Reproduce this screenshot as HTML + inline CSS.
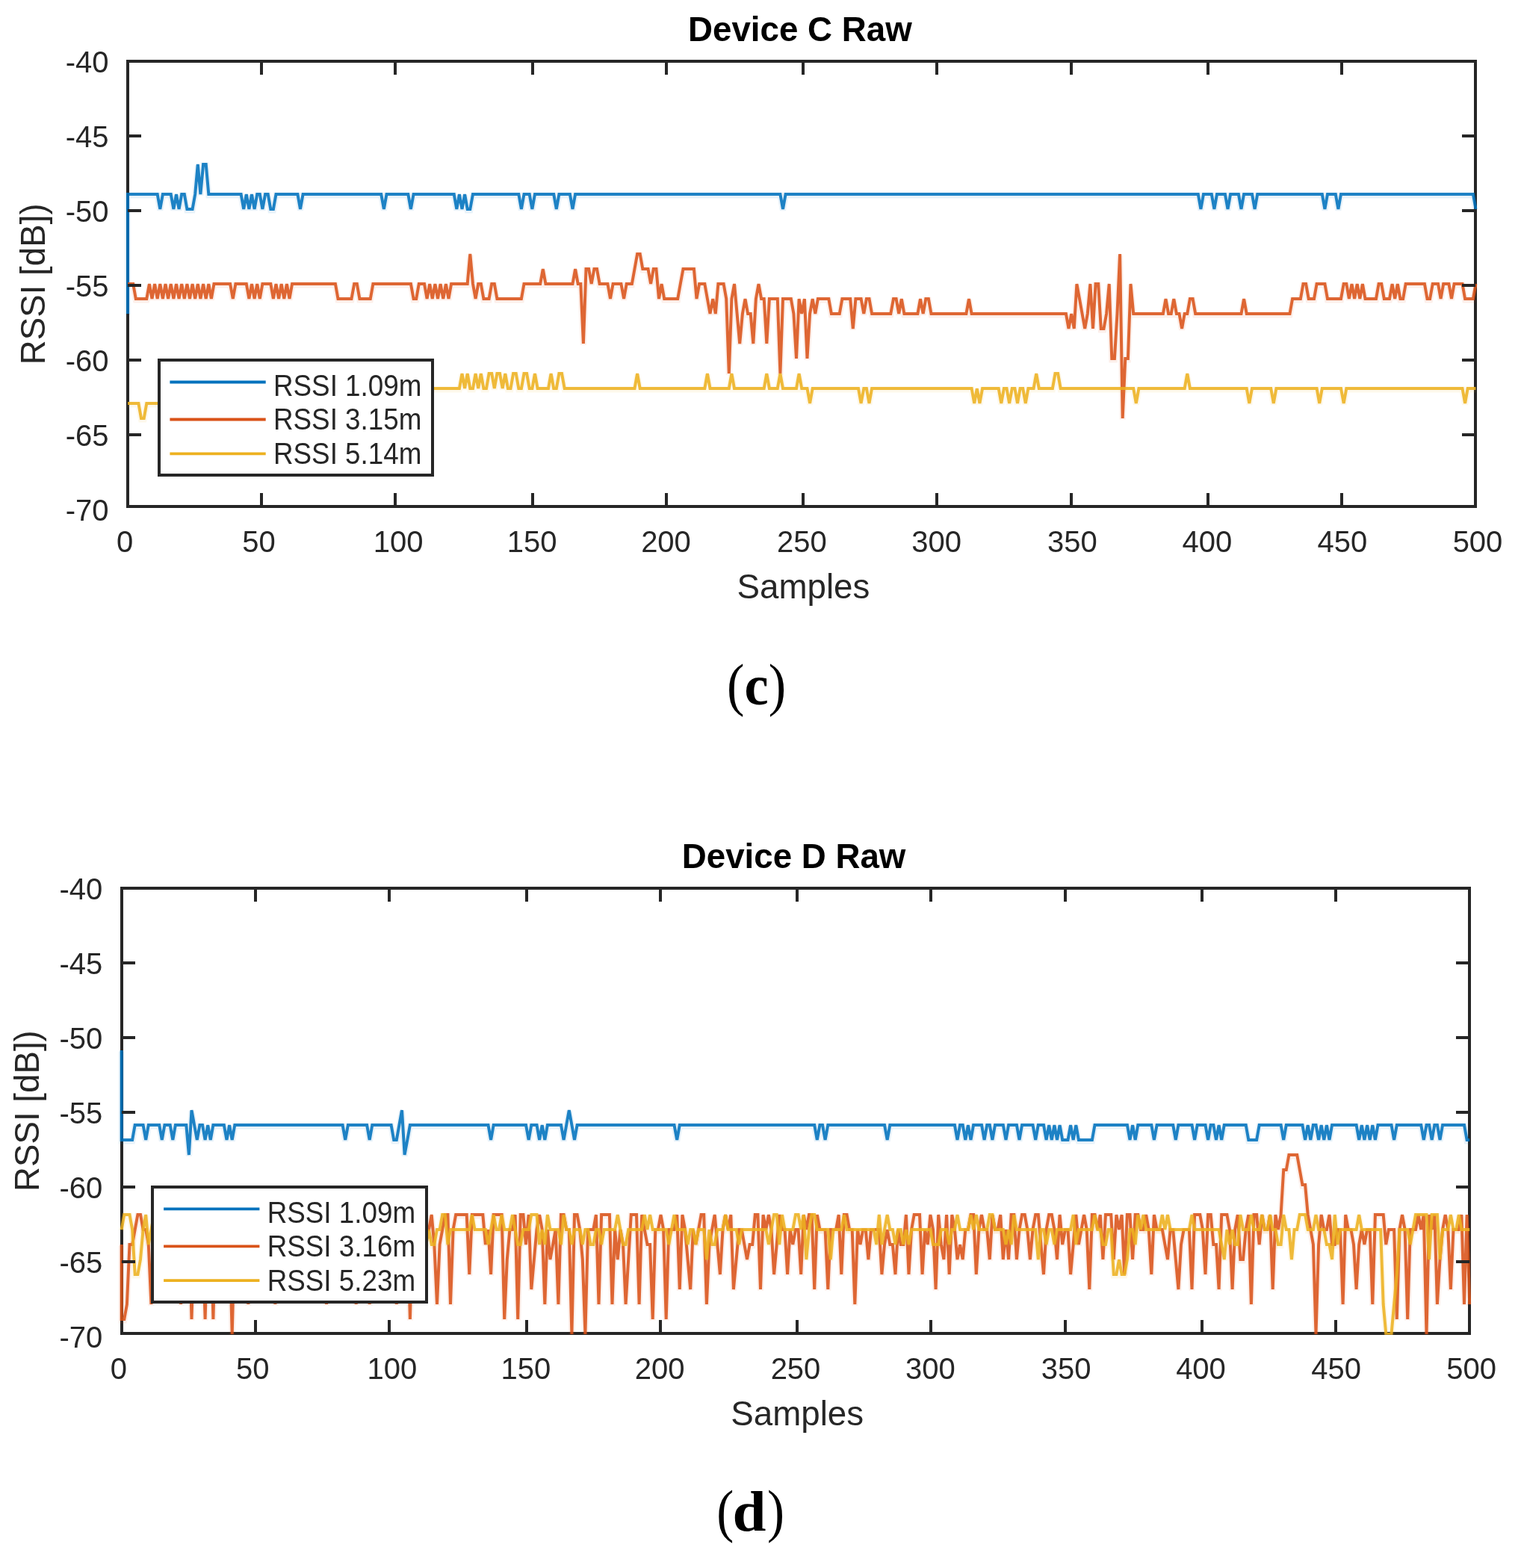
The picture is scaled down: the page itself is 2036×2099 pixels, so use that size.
<!DOCTYPE html>
<html><head><meta charset="utf-8"><title>Device C / D Raw RSSI</title>
<style>
html,body{margin:0;padding:0;background:#fff;overflow:hidden;}
svg{display:block;}
.tk{font-family:"Liberation Sans",Arial,sans-serif;font-size:40px;fill:#262626;}
.lb{font-family:"Liberation Sans",Arial,sans-serif;font-size:45.7px;fill:#262626;}
.tt{font-family:"Liberation Sans",Arial,sans-serif;font-size:45.7px;font-weight:bold;fill:#000;}
.lg{font-family:"Liberation Sans",Arial,sans-serif;font-size:40px;fill:#262626;}
.cap{font-family:"Liberation Serif","Times New Roman",serif;font-size:80px;fill:#000;}
</style></head><body>
<svg width="2036" height="2099" viewBox="0 0 2036 2099">
<rect width="2036" height="2099" fill="#fff"/>
<g>
<rect x="171.0" y="82.0" width="1804.0" height="596.0" fill="none" stroke="#262626" stroke-width="4"/>
<clipPath id="clipC"><rect x="163.0" y="80.3" width="1814.5" height="599.7"/></clipPath>
<g clip-path="url(#clipC)">
<polyline points="171.0,421.5 171.0,261.5 174.6,261.5 178.2,261.5 181.8,261.5 185.4,261.5 189.0,261.5 192.7,261.5 196.3,261.5 199.9,261.5 203.5,261.5 207.1,261.5 210.7,261.5 214.3,281.5 217.9,261.5 221.5,261.5 225.1,261.5 228.7,261.5 232.4,281.5 236.0,261.5 239.6,281.5 243.2,261.5 246.8,261.5 250.4,281.5 254.0,281.5 257.6,281.5 261.2,261.5 264.8,221.5 268.4,261.5 272.1,221.5 275.7,221.5 279.3,261.5 282.9,261.5 286.5,261.5 290.1,261.5 293.7,261.5 297.3,261.5 300.9,261.5 304.5,261.5 308.1,261.5 311.8,261.5 315.4,261.5 319.0,261.5 322.6,261.5 326.2,281.5 329.8,261.5 333.4,281.5 337.0,261.5 340.6,281.5 344.2,261.5 347.8,261.5 351.4,281.5 355.1,261.5 358.7,261.5 362.3,281.5 365.9,281.5 369.5,261.5 373.1,261.5 376.7,261.5 380.3,261.5 383.9,261.5 387.5,261.5 391.1,261.5 394.8,261.5 398.4,261.5 402.0,281.5 405.6,261.5 409.2,261.5 412.8,261.5 416.4,261.5 420.0,261.5 423.6,261.5 427.2,261.5 430.8,261.5 434.5,261.5 438.1,261.5 441.7,261.5 445.3,261.5 448.9,261.5 452.5,261.5 456.1,261.5 459.7,261.5 463.3,261.5 466.9,261.5 470.5,261.5 474.2,261.5 477.8,261.5 481.4,261.5 485.0,261.5 488.6,261.5 492.2,261.5 495.8,261.5 499.4,261.5 503.0,261.5 506.6,261.5 510.2,261.5 513.9,281.5 517.5,261.5 521.1,261.5 524.7,261.5 528.3,261.5 531.9,261.5 535.5,261.5 539.1,261.5 542.7,261.5 546.3,261.5 549.9,281.5 553.6,261.5 557.2,261.5 560.8,261.5 564.4,261.5 568.0,261.5 571.6,261.5 575.2,261.5 578.8,261.5 582.4,261.5 586.0,261.5 589.6,261.5 593.3,261.5 596.9,261.5 600.5,261.5 604.1,261.5 607.7,261.5 611.3,281.5 614.9,261.5 618.5,281.5 622.1,261.5 625.7,281.5 629.3,281.5 633.0,261.5 636.6,261.5 640.2,261.5 643.8,261.5 647.4,261.5 651.0,261.5 654.6,261.5 658.2,261.5 661.8,261.5 665.4,261.5 669.0,261.5 672.7,261.5 676.3,261.5 679.9,261.5 683.5,261.5 687.1,261.5 690.7,261.5 694.3,261.5 697.9,281.5 701.5,261.5 705.1,261.5 708.7,261.5 712.4,281.5 716.0,261.5 719.6,261.5 723.2,261.5 726.8,261.5 730.4,261.5 734.0,261.5 737.6,261.5 741.2,261.5 744.8,281.5 748.4,261.5 752.0,261.5 755.7,261.5 759.3,261.5 762.9,261.5 766.5,281.5 770.1,261.5 773.7,261.5 777.3,261.5 780.9,261.5 784.5,261.5 788.1,261.5 791.7,261.5 795.4,261.5 799.0,261.5 802.6,261.5 806.2,261.5 809.8,261.5 813.4,261.5 817.0,261.5 820.6,261.5 824.2,261.5 827.8,261.5 831.4,261.5 835.1,261.5 838.7,261.5 842.3,261.5 845.9,261.5 849.5,261.5 853.1,261.5 856.7,261.5 860.3,261.5 863.9,261.5 867.5,261.5 871.1,261.5 874.8,261.5 878.4,261.5 882.0,261.5 885.6,261.5 889.2,261.5 892.8,261.5 896.4,261.5 900.0,261.5 903.6,261.5 907.2,261.5 910.8,261.5 914.5,261.5 918.1,261.5 921.7,261.5 925.3,261.5 928.9,261.5 932.5,261.5 936.1,261.5 939.7,261.5 943.3,261.5 946.9,261.5 950.5,261.5 954.2,261.5 957.8,261.5 961.4,261.5 965.0,261.5 968.6,261.5 972.2,261.5 975.8,261.5 979.4,261.5 983.0,261.5 986.6,261.5 990.2,261.5 993.9,261.5 997.5,261.5 1001.1,261.5 1004.7,261.5 1008.3,261.5 1011.9,261.5 1015.5,261.5 1019.1,261.5 1022.7,261.5 1026.3,261.5 1029.9,261.5 1033.6,261.5 1037.2,261.5 1040.8,261.5 1044.4,261.5 1048.0,281.5 1051.6,261.5 1055.2,261.5 1058.8,261.5 1062.4,261.5 1066.0,261.5 1069.6,261.5 1073.2,261.5 1076.9,261.5 1080.5,261.5 1084.1,261.5 1087.7,261.5 1091.3,261.5 1094.9,261.5 1098.5,261.5 1102.1,261.5 1105.7,261.5 1109.3,261.5 1112.9,261.5 1116.6,261.5 1120.2,261.5 1123.8,261.5 1127.4,261.5 1131.0,261.5 1134.6,261.5 1138.2,261.5 1141.8,261.5 1145.4,261.5 1149.0,261.5 1152.6,261.5 1156.3,261.5 1159.9,261.5 1163.5,261.5 1167.1,261.5 1170.7,261.5 1174.3,261.5 1177.9,261.5 1181.5,261.5 1185.1,261.5 1188.7,261.5 1192.3,261.5 1196.0,261.5 1199.6,261.5 1203.2,261.5 1206.8,261.5 1210.4,261.5 1214.0,261.5 1217.6,261.5 1221.2,261.5 1224.8,261.5 1228.4,261.5 1232.0,261.5 1235.7,261.5 1239.3,261.5 1242.9,261.5 1246.5,261.5 1250.1,261.5 1253.7,261.5 1257.3,261.5 1260.9,261.5 1264.5,261.5 1268.1,261.5 1271.7,261.5 1275.4,261.5 1279.0,261.5 1282.6,261.5 1286.2,261.5 1289.8,261.5 1293.4,261.5 1297.0,261.5 1300.6,261.5 1304.2,261.5 1307.8,261.5 1311.4,261.5 1315.1,261.5 1318.7,261.5 1322.3,261.5 1325.9,261.5 1329.5,261.5 1333.1,261.5 1336.7,261.5 1340.3,261.5 1343.9,261.5 1347.5,261.5 1351.1,261.5 1354.8,261.5 1358.4,261.5 1362.0,261.5 1365.6,261.5 1369.2,261.5 1372.8,261.5 1376.4,261.5 1380.0,261.5 1383.6,261.5 1387.2,261.5 1390.8,261.5 1394.5,261.5 1398.1,261.5 1401.7,261.5 1405.3,261.5 1408.9,261.5 1412.5,261.5 1416.1,261.5 1419.7,261.5 1423.3,261.5 1426.9,261.5 1430.5,261.5 1434.2,261.5 1437.8,261.5 1441.4,261.5 1445.0,261.5 1448.6,261.5 1452.2,261.5 1455.8,261.5 1459.4,261.5 1463.0,261.5 1466.6,261.5 1470.2,261.5 1473.8,261.5 1477.5,261.5 1481.1,261.5 1484.7,261.5 1488.3,261.5 1491.9,261.5 1495.5,261.5 1499.1,261.5 1502.7,261.5 1506.3,261.5 1509.9,261.5 1513.5,261.5 1517.2,261.5 1520.8,261.5 1524.4,261.5 1528.0,261.5 1531.6,261.5 1535.2,261.5 1538.8,261.5 1542.4,261.5 1546.0,261.5 1549.6,261.5 1553.2,261.5 1556.9,261.5 1560.5,261.5 1564.1,261.5 1567.7,261.5 1571.3,261.5 1574.9,261.5 1578.5,261.5 1582.1,261.5 1585.7,261.5 1589.3,261.5 1592.9,261.5 1596.6,261.5 1600.2,261.5 1603.8,261.5 1607.4,281.5 1611.0,261.5 1614.6,261.5 1618.2,261.5 1621.8,261.5 1625.4,281.5 1629.0,261.5 1632.6,261.5 1636.3,261.5 1639.9,261.5 1643.5,281.5 1647.1,261.5 1650.7,261.5 1654.3,261.5 1657.9,261.5 1661.5,281.5 1665.1,261.5 1668.7,261.5 1672.3,261.5 1676.0,261.5 1679.6,281.5 1683.2,261.5 1686.8,261.5 1690.4,261.5 1694.0,261.5 1697.6,261.5 1701.2,261.5 1704.8,261.5 1708.4,261.5 1712.0,261.5 1715.7,261.5 1719.3,261.5 1722.9,261.5 1726.5,261.5 1730.1,261.5 1733.7,261.5 1737.3,261.5 1740.9,261.5 1744.5,261.5 1748.1,261.5 1751.7,261.5 1755.4,261.5 1759.0,261.5 1762.6,261.5 1766.2,261.5 1769.8,261.5 1773.4,281.5 1777.0,261.5 1780.6,261.5 1784.2,261.5 1787.8,261.5 1791.4,281.5 1795.0,261.5 1798.7,261.5 1802.3,261.5 1805.9,261.5 1809.5,261.5 1813.1,261.5 1816.7,261.5 1820.3,261.5 1823.9,261.5 1827.5,261.5 1831.1,261.5 1834.7,261.5 1838.4,261.5 1842.0,261.5 1845.6,261.5 1849.2,261.5 1852.8,261.5 1856.4,261.5 1860.0,261.5 1863.6,261.5 1867.2,261.5 1870.8,261.5 1874.4,261.5 1878.1,261.5 1881.7,261.5 1885.3,261.5 1888.9,261.5 1892.5,261.5 1896.1,261.5 1899.7,261.5 1903.3,261.5 1906.9,261.5 1910.5,261.5 1914.1,261.5 1917.8,261.5 1921.4,261.5 1925.0,261.5 1928.6,261.5 1932.2,261.5 1935.8,261.5 1939.4,261.5 1943.0,261.5 1946.6,261.5 1950.2,261.5 1953.8,261.5 1957.5,261.5 1961.1,261.5 1964.7,261.5 1968.3,261.5 1971.9,261.5 1975.5,281.5" fill="none" stroke="#0072BD" stroke-opacity="0.09" stroke-width="8.0" stroke-linejoin="miter" stroke-miterlimit="3"/>
<polyline points="171.0,420.0 171.0,260.0 174.6,260.0 178.2,260.0 181.8,260.0 185.4,260.0 189.0,260.0 192.7,260.0 196.3,260.0 199.9,260.0 203.5,260.0 207.1,260.0 210.7,260.0 214.3,280.0 217.9,260.0 221.5,260.0 225.1,260.0 228.7,260.0 232.4,280.0 236.0,260.0 239.6,280.0 243.2,260.0 246.8,260.0 250.4,280.0 254.0,280.0 257.6,280.0 261.2,260.0 264.8,220.0 268.4,260.0 272.1,220.0 275.7,220.0 279.3,260.0 282.9,260.0 286.5,260.0 290.1,260.0 293.7,260.0 297.3,260.0 300.9,260.0 304.5,260.0 308.1,260.0 311.8,260.0 315.4,260.0 319.0,260.0 322.6,260.0 326.2,280.0 329.8,260.0 333.4,280.0 337.0,260.0 340.6,280.0 344.2,260.0 347.8,260.0 351.4,280.0 355.1,260.0 358.7,260.0 362.3,280.0 365.9,280.0 369.5,260.0 373.1,260.0 376.7,260.0 380.3,260.0 383.9,260.0 387.5,260.0 391.1,260.0 394.8,260.0 398.4,260.0 402.0,280.0 405.6,260.0 409.2,260.0 412.8,260.0 416.4,260.0 420.0,260.0 423.6,260.0 427.2,260.0 430.8,260.0 434.5,260.0 438.1,260.0 441.7,260.0 445.3,260.0 448.9,260.0 452.5,260.0 456.1,260.0 459.7,260.0 463.3,260.0 466.9,260.0 470.5,260.0 474.2,260.0 477.8,260.0 481.4,260.0 485.0,260.0 488.6,260.0 492.2,260.0 495.8,260.0 499.4,260.0 503.0,260.0 506.6,260.0 510.2,260.0 513.9,280.0 517.5,260.0 521.1,260.0 524.7,260.0 528.3,260.0 531.9,260.0 535.5,260.0 539.1,260.0 542.7,260.0 546.3,260.0 549.9,280.0 553.6,260.0 557.2,260.0 560.8,260.0 564.4,260.0 568.0,260.0 571.6,260.0 575.2,260.0 578.8,260.0 582.4,260.0 586.0,260.0 589.6,260.0 593.3,260.0 596.9,260.0 600.5,260.0 604.1,260.0 607.7,260.0 611.3,280.0 614.9,260.0 618.5,280.0 622.1,260.0 625.7,280.0 629.3,280.0 633.0,260.0 636.6,260.0 640.2,260.0 643.8,260.0 647.4,260.0 651.0,260.0 654.6,260.0 658.2,260.0 661.8,260.0 665.4,260.0 669.0,260.0 672.7,260.0 676.3,260.0 679.9,260.0 683.5,260.0 687.1,260.0 690.7,260.0 694.3,260.0 697.9,280.0 701.5,260.0 705.1,260.0 708.7,260.0 712.4,280.0 716.0,260.0 719.6,260.0 723.2,260.0 726.8,260.0 730.4,260.0 734.0,260.0 737.6,260.0 741.2,260.0 744.8,280.0 748.4,260.0 752.0,260.0 755.7,260.0 759.3,260.0 762.9,260.0 766.5,280.0 770.1,260.0 773.7,260.0 777.3,260.0 780.9,260.0 784.5,260.0 788.1,260.0 791.7,260.0 795.4,260.0 799.0,260.0 802.6,260.0 806.2,260.0 809.8,260.0 813.4,260.0 817.0,260.0 820.6,260.0 824.2,260.0 827.8,260.0 831.4,260.0 835.1,260.0 838.7,260.0 842.3,260.0 845.9,260.0 849.5,260.0 853.1,260.0 856.7,260.0 860.3,260.0 863.9,260.0 867.5,260.0 871.1,260.0 874.8,260.0 878.4,260.0 882.0,260.0 885.6,260.0 889.2,260.0 892.8,260.0 896.4,260.0 900.0,260.0 903.6,260.0 907.2,260.0 910.8,260.0 914.5,260.0 918.1,260.0 921.7,260.0 925.3,260.0 928.9,260.0 932.5,260.0 936.1,260.0 939.7,260.0 943.3,260.0 946.9,260.0 950.5,260.0 954.2,260.0 957.8,260.0 961.4,260.0 965.0,260.0 968.6,260.0 972.2,260.0 975.8,260.0 979.4,260.0 983.0,260.0 986.6,260.0 990.2,260.0 993.9,260.0 997.5,260.0 1001.1,260.0 1004.7,260.0 1008.3,260.0 1011.9,260.0 1015.5,260.0 1019.1,260.0 1022.7,260.0 1026.3,260.0 1029.9,260.0 1033.6,260.0 1037.2,260.0 1040.8,260.0 1044.4,260.0 1048.0,280.0 1051.6,260.0 1055.2,260.0 1058.8,260.0 1062.4,260.0 1066.0,260.0 1069.6,260.0 1073.2,260.0 1076.9,260.0 1080.5,260.0 1084.1,260.0 1087.7,260.0 1091.3,260.0 1094.9,260.0 1098.5,260.0 1102.1,260.0 1105.7,260.0 1109.3,260.0 1112.9,260.0 1116.6,260.0 1120.2,260.0 1123.8,260.0 1127.4,260.0 1131.0,260.0 1134.6,260.0 1138.2,260.0 1141.8,260.0 1145.4,260.0 1149.0,260.0 1152.6,260.0 1156.3,260.0 1159.9,260.0 1163.5,260.0 1167.1,260.0 1170.7,260.0 1174.3,260.0 1177.9,260.0 1181.5,260.0 1185.1,260.0 1188.7,260.0 1192.3,260.0 1196.0,260.0 1199.6,260.0 1203.2,260.0 1206.8,260.0 1210.4,260.0 1214.0,260.0 1217.6,260.0 1221.2,260.0 1224.8,260.0 1228.4,260.0 1232.0,260.0 1235.7,260.0 1239.3,260.0 1242.9,260.0 1246.5,260.0 1250.1,260.0 1253.7,260.0 1257.3,260.0 1260.9,260.0 1264.5,260.0 1268.1,260.0 1271.7,260.0 1275.4,260.0 1279.0,260.0 1282.6,260.0 1286.2,260.0 1289.8,260.0 1293.4,260.0 1297.0,260.0 1300.6,260.0 1304.2,260.0 1307.8,260.0 1311.4,260.0 1315.1,260.0 1318.7,260.0 1322.3,260.0 1325.9,260.0 1329.5,260.0 1333.1,260.0 1336.7,260.0 1340.3,260.0 1343.9,260.0 1347.5,260.0 1351.1,260.0 1354.8,260.0 1358.4,260.0 1362.0,260.0 1365.6,260.0 1369.2,260.0 1372.8,260.0 1376.4,260.0 1380.0,260.0 1383.6,260.0 1387.2,260.0 1390.8,260.0 1394.5,260.0 1398.1,260.0 1401.7,260.0 1405.3,260.0 1408.9,260.0 1412.5,260.0 1416.1,260.0 1419.7,260.0 1423.3,260.0 1426.9,260.0 1430.5,260.0 1434.2,260.0 1437.8,260.0 1441.4,260.0 1445.0,260.0 1448.6,260.0 1452.2,260.0 1455.8,260.0 1459.4,260.0 1463.0,260.0 1466.6,260.0 1470.2,260.0 1473.8,260.0 1477.5,260.0 1481.1,260.0 1484.7,260.0 1488.3,260.0 1491.9,260.0 1495.5,260.0 1499.1,260.0 1502.7,260.0 1506.3,260.0 1509.9,260.0 1513.5,260.0 1517.2,260.0 1520.8,260.0 1524.4,260.0 1528.0,260.0 1531.6,260.0 1535.2,260.0 1538.8,260.0 1542.4,260.0 1546.0,260.0 1549.6,260.0 1553.2,260.0 1556.9,260.0 1560.5,260.0 1564.1,260.0 1567.7,260.0 1571.3,260.0 1574.9,260.0 1578.5,260.0 1582.1,260.0 1585.7,260.0 1589.3,260.0 1592.9,260.0 1596.6,260.0 1600.2,260.0 1603.8,260.0 1607.4,280.0 1611.0,260.0 1614.6,260.0 1618.2,260.0 1621.8,260.0 1625.4,280.0 1629.0,260.0 1632.6,260.0 1636.3,260.0 1639.9,260.0 1643.5,280.0 1647.1,260.0 1650.7,260.0 1654.3,260.0 1657.9,260.0 1661.5,280.0 1665.1,260.0 1668.7,260.0 1672.3,260.0 1676.0,260.0 1679.6,280.0 1683.2,260.0 1686.8,260.0 1690.4,260.0 1694.0,260.0 1697.6,260.0 1701.2,260.0 1704.8,260.0 1708.4,260.0 1712.0,260.0 1715.7,260.0 1719.3,260.0 1722.9,260.0 1726.5,260.0 1730.1,260.0 1733.7,260.0 1737.3,260.0 1740.9,260.0 1744.5,260.0 1748.1,260.0 1751.7,260.0 1755.4,260.0 1759.0,260.0 1762.6,260.0 1766.2,260.0 1769.8,260.0 1773.4,280.0 1777.0,260.0 1780.6,260.0 1784.2,260.0 1787.8,260.0 1791.4,280.0 1795.0,260.0 1798.7,260.0 1802.3,260.0 1805.9,260.0 1809.5,260.0 1813.1,260.0 1816.7,260.0 1820.3,260.0 1823.9,260.0 1827.5,260.0 1831.1,260.0 1834.7,260.0 1838.4,260.0 1842.0,260.0 1845.6,260.0 1849.2,260.0 1852.8,260.0 1856.4,260.0 1860.0,260.0 1863.6,260.0 1867.2,260.0 1870.8,260.0 1874.4,260.0 1878.1,260.0 1881.7,260.0 1885.3,260.0 1888.9,260.0 1892.5,260.0 1896.1,260.0 1899.7,260.0 1903.3,260.0 1906.9,260.0 1910.5,260.0 1914.1,260.0 1917.8,260.0 1921.4,260.0 1925.0,260.0 1928.6,260.0 1932.2,260.0 1935.8,260.0 1939.4,260.0 1943.0,260.0 1946.6,260.0 1950.2,260.0 1953.8,260.0 1957.5,260.0 1961.1,260.0 1964.7,260.0 1968.3,260.0 1971.9,260.0 1975.5,280.0" fill="none" stroke="#0072BD" stroke-opacity="0.88" stroke-width="4.0" stroke-linejoin="miter" stroke-miterlimit="3"/>
<polyline points="171.0,381.5 174.6,381.5 178.2,381.5 181.8,401.5 185.4,401.5 189.0,401.5 192.7,401.5 196.3,401.5 199.9,381.5 203.5,401.5 207.1,381.5 210.7,401.5 214.3,381.5 217.9,401.5 221.5,381.5 225.1,401.5 228.7,381.5 232.4,401.5 236.0,381.5 239.6,401.5 243.2,381.5 246.8,401.5 250.4,381.5 254.0,401.5 257.6,381.5 261.2,401.5 264.8,381.5 268.4,401.5 272.1,381.5 275.7,401.5 279.3,381.5 282.9,401.5 286.5,381.5 290.1,381.5 293.7,381.5 297.3,381.5 300.9,381.5 304.5,381.5 308.1,381.5 311.8,401.5 315.4,381.5 319.0,381.5 322.6,381.5 326.2,381.5 329.8,381.5 333.4,401.5 337.0,381.5 340.6,401.5 344.2,381.5 347.8,401.5 351.4,381.5 355.1,381.5 358.7,381.5 362.3,381.5 365.9,401.5 369.5,381.5 373.1,401.5 376.7,381.5 380.3,401.5 383.9,381.5 387.5,401.5 391.1,381.5 394.8,381.5 398.4,381.5 402.0,381.5 405.6,381.5 409.2,381.5 412.8,381.5 416.4,381.5 420.0,381.5 423.6,381.5 427.2,381.5 430.8,381.5 434.5,381.5 438.1,381.5 441.7,381.5 445.3,381.5 448.9,381.5 452.5,401.5 456.1,401.5 459.7,401.5 463.3,401.5 466.9,401.5 470.5,401.5 474.2,381.5 477.8,381.5 481.4,401.5 485.0,401.5 488.6,401.5 492.2,401.5 495.8,401.5 499.4,381.5 503.0,381.5 506.6,381.5 510.2,381.5 513.9,381.5 517.5,381.5 521.1,381.5 524.7,381.5 528.3,381.5 531.9,381.5 535.5,381.5 539.1,381.5 542.7,381.5 546.3,381.5 549.9,381.5 553.6,401.5 557.2,401.5 560.8,381.5 564.4,381.5 568.0,381.5 571.6,401.5 575.2,381.5 578.8,401.5 582.4,381.5 586.0,401.5 589.6,381.5 593.3,401.5 596.9,381.5 600.5,401.5 604.1,381.5 607.7,381.5 611.3,381.5 614.9,381.5 618.5,381.5 622.1,381.5 625.7,381.5 629.3,341.5 633.0,381.5 636.6,401.5 640.2,381.5 643.8,381.5 647.4,401.5 651.0,401.5 654.6,401.5 658.2,381.5 661.8,381.5 665.4,401.5 669.0,401.5 672.7,401.5 676.3,401.5 679.9,401.5 683.5,401.5 687.1,401.5 690.7,401.5 694.3,401.5 697.9,401.5 701.5,381.5 705.1,381.5 708.7,381.5 712.4,381.5 716.0,381.5 719.6,381.5 723.2,381.5 726.8,361.5 730.4,381.5 734.0,381.5 737.6,381.5 741.2,381.5 744.8,381.5 748.4,381.5 752.0,381.5 755.7,381.5 759.3,381.5 762.9,381.5 766.5,381.5 770.1,361.5 773.7,381.5 777.3,381.5 780.9,461.5 784.5,361.5 788.1,361.5 791.7,381.5 795.4,361.5 799.0,361.5 802.6,381.5 806.2,381.5 809.8,381.5 813.4,381.5 817.0,401.5 820.6,381.5 824.2,381.5 827.8,381.5 831.4,381.5 835.1,401.5 838.7,381.5 842.3,381.5 845.9,381.5 849.5,361.5 853.1,341.5 856.7,341.5 860.3,361.5 863.9,361.5 867.5,361.5 871.1,381.5 874.8,361.5 878.4,361.5 882.0,401.5 885.6,381.5 889.2,401.5 892.8,401.5 896.4,401.5 900.0,401.5 903.6,401.5 907.2,401.5 910.8,381.5 914.5,361.5 918.1,361.5 921.7,361.5 925.3,361.5 928.9,361.5 932.5,401.5 936.1,381.5 939.7,381.5 943.3,381.5 946.9,401.5 950.5,421.5 954.2,401.5 957.8,421.5 961.4,381.5 965.0,381.5 968.6,381.5 972.2,401.5 975.8,501.5 979.4,401.5 983.0,381.5 986.6,421.5 990.2,461.5 993.9,421.5 997.5,401.5 1001.1,421.5 1004.7,421.5 1008.3,461.5 1011.9,401.5 1015.5,381.5 1019.1,401.5 1022.7,401.5 1026.3,461.5 1029.9,401.5 1033.6,401.5 1037.2,401.5 1040.8,401.5 1044.4,501.5 1048.0,401.5 1051.6,401.5 1055.2,401.5 1058.8,401.5 1062.4,421.5 1066.0,481.5 1069.6,401.5 1073.2,421.5 1076.9,401.5 1080.5,481.5 1084.1,421.5 1087.7,401.5 1091.3,421.5 1094.9,401.5 1098.5,401.5 1102.1,401.5 1105.7,401.5 1109.3,401.5 1112.9,421.5 1116.6,421.5 1120.2,421.5 1123.8,421.5 1127.4,401.5 1131.0,401.5 1134.6,401.5 1138.2,401.5 1141.8,441.5 1145.4,401.5 1149.0,401.5 1152.6,401.5 1156.3,421.5 1159.9,401.5 1163.5,401.5 1167.1,421.5 1170.7,421.5 1174.3,421.5 1177.9,421.5 1181.5,421.5 1185.1,421.5 1188.7,421.5 1192.3,421.5 1196.0,401.5 1199.6,401.5 1203.2,421.5 1206.8,401.5 1210.4,421.5 1214.0,421.5 1217.6,421.5 1221.2,421.5 1224.8,421.5 1228.4,421.5 1232.0,401.5 1235.7,421.5 1239.3,401.5 1242.9,401.5 1246.5,421.5 1250.1,421.5 1253.7,421.5 1257.3,421.5 1260.9,421.5 1264.5,421.5 1268.1,421.5 1271.7,421.5 1275.4,421.5 1279.0,421.5 1282.6,421.5 1286.2,421.5 1289.8,421.5 1293.4,421.5 1297.0,401.5 1300.6,421.5 1304.2,421.5 1307.8,421.5 1311.4,421.5 1315.1,421.5 1318.7,421.5 1322.3,421.5 1325.9,421.5 1329.5,421.5 1333.1,421.5 1336.7,421.5 1340.3,421.5 1343.9,421.5 1347.5,421.5 1351.1,421.5 1354.8,421.5 1358.4,421.5 1362.0,421.5 1365.6,421.5 1369.2,421.5 1372.8,421.5 1376.4,421.5 1380.0,421.5 1383.6,421.5 1387.2,421.5 1390.8,421.5 1394.5,421.5 1398.1,421.5 1401.7,421.5 1405.3,421.5 1408.9,421.5 1412.5,421.5 1416.1,421.5 1419.7,421.5 1423.3,421.5 1426.9,421.5 1430.5,441.5 1434.2,421.5 1437.8,441.5 1441.4,381.5 1445.0,401.5 1448.6,421.5 1452.2,441.5 1455.8,421.5 1459.4,381.5 1463.0,441.5 1466.6,381.5 1470.2,381.5 1473.8,441.5 1477.5,441.5 1481.1,421.5 1484.7,381.5 1488.3,481.5 1491.9,481.5 1495.5,421.5 1499.1,341.5 1502.7,561.5 1506.3,481.5 1509.9,481.5 1513.5,381.5 1517.2,421.5 1520.8,421.5 1524.4,421.5 1528.0,421.5 1531.6,421.5 1535.2,421.5 1538.8,421.5 1542.4,421.5 1546.0,421.5 1549.6,421.5 1553.2,421.5 1556.9,421.5 1560.5,401.5 1564.1,421.5 1567.7,421.5 1571.3,401.5 1574.9,421.5 1578.5,421.5 1582.1,441.5 1585.7,421.5 1589.3,421.5 1592.9,401.5 1596.6,401.5 1600.2,421.5 1603.8,421.5 1607.4,421.5 1611.0,421.5 1614.6,421.5 1618.2,421.5 1621.8,421.5 1625.4,421.5 1629.0,421.5 1632.6,421.5 1636.3,421.5 1639.9,421.5 1643.5,421.5 1647.1,421.5 1650.7,421.5 1654.3,421.5 1657.9,421.5 1661.5,421.5 1665.1,401.5 1668.7,421.5 1672.3,421.5 1676.0,421.5 1679.6,421.5 1683.2,421.5 1686.8,421.5 1690.4,421.5 1694.0,421.5 1697.6,421.5 1701.2,421.5 1704.8,421.5 1708.4,421.5 1712.0,421.5 1715.7,421.5 1719.3,421.5 1722.9,421.5 1726.5,421.5 1730.1,401.5 1733.7,401.5 1737.3,401.5 1740.9,401.5 1744.5,381.5 1748.1,381.5 1751.7,401.5 1755.4,401.5 1759.0,401.5 1762.6,381.5 1766.2,381.5 1769.8,381.5 1773.4,381.5 1777.0,401.5 1780.6,401.5 1784.2,401.5 1787.8,401.5 1791.4,401.5 1795.0,401.5 1798.7,381.5 1802.3,381.5 1805.9,401.5 1809.5,381.5 1813.1,401.5 1816.7,381.5 1820.3,401.5 1823.9,381.5 1827.5,401.5 1831.1,401.5 1834.7,401.5 1838.4,401.5 1842.0,401.5 1845.6,381.5 1849.2,381.5 1852.8,401.5 1856.4,401.5 1860.0,401.5 1863.6,381.5 1867.2,401.5 1870.8,381.5 1874.4,401.5 1878.1,401.5 1881.7,381.5 1885.3,381.5 1888.9,381.5 1892.5,381.5 1896.1,381.5 1899.7,381.5 1903.3,381.5 1906.9,381.5 1910.5,401.5 1914.1,401.5 1917.8,381.5 1921.4,381.5 1925.0,381.5 1928.6,401.5 1932.2,381.5 1935.8,381.5 1939.4,381.5 1943.0,401.5 1946.6,381.5 1950.2,381.5 1953.8,381.5 1957.5,381.5 1961.1,401.5 1964.7,401.5 1968.3,401.5 1971.9,401.5 1975.5,381.5" fill="none" stroke="#D95319" stroke-opacity="0.09" stroke-width="8.0" stroke-linejoin="miter" stroke-miterlimit="3"/>
<polyline points="171.0,380.0 174.6,380.0 178.2,380.0 181.8,400.0 185.4,400.0 189.0,400.0 192.7,400.0 196.3,400.0 199.9,380.0 203.5,400.0 207.1,380.0 210.7,400.0 214.3,380.0 217.9,400.0 221.5,380.0 225.1,400.0 228.7,380.0 232.4,400.0 236.0,380.0 239.6,400.0 243.2,380.0 246.8,400.0 250.4,380.0 254.0,400.0 257.6,380.0 261.2,400.0 264.8,380.0 268.4,400.0 272.1,380.0 275.7,400.0 279.3,380.0 282.9,400.0 286.5,380.0 290.1,380.0 293.7,380.0 297.3,380.0 300.9,380.0 304.5,380.0 308.1,380.0 311.8,400.0 315.4,380.0 319.0,380.0 322.6,380.0 326.2,380.0 329.8,380.0 333.4,400.0 337.0,380.0 340.6,400.0 344.2,380.0 347.8,400.0 351.4,380.0 355.1,380.0 358.7,380.0 362.3,380.0 365.9,400.0 369.5,380.0 373.1,400.0 376.7,380.0 380.3,400.0 383.9,380.0 387.5,400.0 391.1,380.0 394.8,380.0 398.4,380.0 402.0,380.0 405.6,380.0 409.2,380.0 412.8,380.0 416.4,380.0 420.0,380.0 423.6,380.0 427.2,380.0 430.8,380.0 434.5,380.0 438.1,380.0 441.7,380.0 445.3,380.0 448.9,380.0 452.5,400.0 456.1,400.0 459.7,400.0 463.3,400.0 466.9,400.0 470.5,400.0 474.2,380.0 477.8,380.0 481.4,400.0 485.0,400.0 488.6,400.0 492.2,400.0 495.8,400.0 499.4,380.0 503.0,380.0 506.6,380.0 510.2,380.0 513.9,380.0 517.5,380.0 521.1,380.0 524.7,380.0 528.3,380.0 531.9,380.0 535.5,380.0 539.1,380.0 542.7,380.0 546.3,380.0 549.9,380.0 553.6,400.0 557.2,400.0 560.8,380.0 564.4,380.0 568.0,380.0 571.6,400.0 575.2,380.0 578.8,400.0 582.4,380.0 586.0,400.0 589.6,380.0 593.3,400.0 596.9,380.0 600.5,400.0 604.1,380.0 607.7,380.0 611.3,380.0 614.9,380.0 618.5,380.0 622.1,380.0 625.7,380.0 629.3,340.0 633.0,380.0 636.6,400.0 640.2,380.0 643.8,380.0 647.4,400.0 651.0,400.0 654.6,400.0 658.2,380.0 661.8,380.0 665.4,400.0 669.0,400.0 672.7,400.0 676.3,400.0 679.9,400.0 683.5,400.0 687.1,400.0 690.7,400.0 694.3,400.0 697.9,400.0 701.5,380.0 705.1,380.0 708.7,380.0 712.4,380.0 716.0,380.0 719.6,380.0 723.2,380.0 726.8,360.0 730.4,380.0 734.0,380.0 737.6,380.0 741.2,380.0 744.8,380.0 748.4,380.0 752.0,380.0 755.7,380.0 759.3,380.0 762.9,380.0 766.5,380.0 770.1,360.0 773.7,380.0 777.3,380.0 780.9,460.0 784.5,360.0 788.1,360.0 791.7,380.0 795.4,360.0 799.0,360.0 802.6,380.0 806.2,380.0 809.8,380.0 813.4,380.0 817.0,400.0 820.6,380.0 824.2,380.0 827.8,380.0 831.4,380.0 835.1,400.0 838.7,380.0 842.3,380.0 845.9,380.0 849.5,360.0 853.1,340.0 856.7,340.0 860.3,360.0 863.9,360.0 867.5,360.0 871.1,380.0 874.8,360.0 878.4,360.0 882.0,400.0 885.6,380.0 889.2,400.0 892.8,400.0 896.4,400.0 900.0,400.0 903.6,400.0 907.2,400.0 910.8,380.0 914.5,360.0 918.1,360.0 921.7,360.0 925.3,360.0 928.9,360.0 932.5,400.0 936.1,380.0 939.7,380.0 943.3,380.0 946.9,400.0 950.5,420.0 954.2,400.0 957.8,420.0 961.4,380.0 965.0,380.0 968.6,380.0 972.2,400.0 975.8,500.0 979.4,400.0 983.0,380.0 986.6,420.0 990.2,460.0 993.9,420.0 997.5,400.0 1001.1,420.0 1004.7,420.0 1008.3,460.0 1011.9,400.0 1015.5,380.0 1019.1,400.0 1022.7,400.0 1026.3,460.0 1029.9,400.0 1033.6,400.0 1037.2,400.0 1040.8,400.0 1044.4,500.0 1048.0,400.0 1051.6,400.0 1055.2,400.0 1058.8,400.0 1062.4,420.0 1066.0,480.0 1069.6,400.0 1073.2,420.0 1076.9,400.0 1080.5,480.0 1084.1,420.0 1087.7,400.0 1091.3,420.0 1094.9,400.0 1098.5,400.0 1102.1,400.0 1105.7,400.0 1109.3,400.0 1112.9,420.0 1116.6,420.0 1120.2,420.0 1123.8,420.0 1127.4,400.0 1131.0,400.0 1134.6,400.0 1138.2,400.0 1141.8,440.0 1145.4,400.0 1149.0,400.0 1152.6,400.0 1156.3,420.0 1159.9,400.0 1163.5,400.0 1167.1,420.0 1170.7,420.0 1174.3,420.0 1177.9,420.0 1181.5,420.0 1185.1,420.0 1188.7,420.0 1192.3,420.0 1196.0,400.0 1199.6,400.0 1203.2,420.0 1206.8,400.0 1210.4,420.0 1214.0,420.0 1217.6,420.0 1221.2,420.0 1224.8,420.0 1228.4,420.0 1232.0,400.0 1235.7,420.0 1239.3,400.0 1242.9,400.0 1246.5,420.0 1250.1,420.0 1253.7,420.0 1257.3,420.0 1260.9,420.0 1264.5,420.0 1268.1,420.0 1271.7,420.0 1275.4,420.0 1279.0,420.0 1282.6,420.0 1286.2,420.0 1289.8,420.0 1293.4,420.0 1297.0,400.0 1300.6,420.0 1304.2,420.0 1307.8,420.0 1311.4,420.0 1315.1,420.0 1318.7,420.0 1322.3,420.0 1325.9,420.0 1329.5,420.0 1333.1,420.0 1336.7,420.0 1340.3,420.0 1343.9,420.0 1347.5,420.0 1351.1,420.0 1354.8,420.0 1358.4,420.0 1362.0,420.0 1365.6,420.0 1369.2,420.0 1372.8,420.0 1376.4,420.0 1380.0,420.0 1383.6,420.0 1387.2,420.0 1390.8,420.0 1394.5,420.0 1398.1,420.0 1401.7,420.0 1405.3,420.0 1408.9,420.0 1412.5,420.0 1416.1,420.0 1419.7,420.0 1423.3,420.0 1426.9,420.0 1430.5,440.0 1434.2,420.0 1437.8,440.0 1441.4,380.0 1445.0,400.0 1448.6,420.0 1452.2,440.0 1455.8,420.0 1459.4,380.0 1463.0,440.0 1466.6,380.0 1470.2,380.0 1473.8,440.0 1477.5,440.0 1481.1,420.0 1484.7,380.0 1488.3,480.0 1491.9,480.0 1495.5,420.0 1499.1,340.0 1502.7,560.0 1506.3,480.0 1509.9,480.0 1513.5,380.0 1517.2,420.0 1520.8,420.0 1524.4,420.0 1528.0,420.0 1531.6,420.0 1535.2,420.0 1538.8,420.0 1542.4,420.0 1546.0,420.0 1549.6,420.0 1553.2,420.0 1556.9,420.0 1560.5,400.0 1564.1,420.0 1567.7,420.0 1571.3,400.0 1574.9,420.0 1578.5,420.0 1582.1,440.0 1585.7,420.0 1589.3,420.0 1592.9,400.0 1596.6,400.0 1600.2,420.0 1603.8,420.0 1607.4,420.0 1611.0,420.0 1614.6,420.0 1618.2,420.0 1621.8,420.0 1625.4,420.0 1629.0,420.0 1632.6,420.0 1636.3,420.0 1639.9,420.0 1643.5,420.0 1647.1,420.0 1650.7,420.0 1654.3,420.0 1657.9,420.0 1661.5,420.0 1665.1,400.0 1668.7,420.0 1672.3,420.0 1676.0,420.0 1679.6,420.0 1683.2,420.0 1686.8,420.0 1690.4,420.0 1694.0,420.0 1697.6,420.0 1701.2,420.0 1704.8,420.0 1708.4,420.0 1712.0,420.0 1715.7,420.0 1719.3,420.0 1722.9,420.0 1726.5,420.0 1730.1,400.0 1733.7,400.0 1737.3,400.0 1740.9,400.0 1744.5,380.0 1748.1,380.0 1751.7,400.0 1755.4,400.0 1759.0,400.0 1762.6,380.0 1766.2,380.0 1769.8,380.0 1773.4,380.0 1777.0,400.0 1780.6,400.0 1784.2,400.0 1787.8,400.0 1791.4,400.0 1795.0,400.0 1798.7,380.0 1802.3,380.0 1805.9,400.0 1809.5,380.0 1813.1,400.0 1816.7,380.0 1820.3,400.0 1823.9,380.0 1827.5,400.0 1831.1,400.0 1834.7,400.0 1838.4,400.0 1842.0,400.0 1845.6,380.0 1849.2,380.0 1852.8,400.0 1856.4,400.0 1860.0,400.0 1863.6,380.0 1867.2,400.0 1870.8,380.0 1874.4,400.0 1878.1,400.0 1881.7,380.0 1885.3,380.0 1888.9,380.0 1892.5,380.0 1896.1,380.0 1899.7,380.0 1903.3,380.0 1906.9,380.0 1910.5,400.0 1914.1,400.0 1917.8,380.0 1921.4,380.0 1925.0,380.0 1928.6,400.0 1932.2,380.0 1935.8,380.0 1939.4,380.0 1943.0,400.0 1946.6,380.0 1950.2,380.0 1953.8,380.0 1957.5,380.0 1961.1,400.0 1964.7,400.0 1968.3,400.0 1971.9,400.0 1975.5,380.0" fill="none" stroke="#D95319" stroke-opacity="0.88" stroke-width="4.0" stroke-linejoin="miter" stroke-miterlimit="3"/>
<polyline points="171.0,541.5 174.6,541.5 178.2,541.5 181.8,541.5 185.4,541.5 189.0,561.5 192.7,561.5 196.3,541.5 199.9,541.5 203.5,541.5 207.1,541.5 210.7,541.5 214.3,541.5 217.9,521.5 221.5,521.5 225.1,521.5 228.7,521.5 232.4,521.5 236.0,521.5 239.6,521.5 243.2,521.5 246.8,521.5 250.4,521.5 254.0,521.5 257.6,521.5 261.2,521.5 264.8,521.5 268.4,521.5 272.1,521.5 275.7,521.5 279.3,521.5 282.9,521.5 286.5,521.5 290.1,521.5 293.7,521.5 297.3,521.5 300.9,521.5 304.5,521.5 308.1,521.5 311.8,521.5 315.4,521.5 319.0,521.5 322.6,521.5 326.2,521.5 329.8,521.5 333.4,521.5 337.0,521.5 340.6,521.5 344.2,521.5 347.8,521.5 351.4,521.5 355.1,521.5 358.7,521.5 362.3,521.5 365.9,521.5 369.5,521.5 373.1,521.5 376.7,521.5 380.3,521.5 383.9,521.5 387.5,521.5 391.1,521.5 394.8,521.5 398.4,521.5 402.0,521.5 405.6,521.5 409.2,521.5 412.8,521.5 416.4,521.5 420.0,521.5 423.6,521.5 427.2,521.5 430.8,521.5 434.5,521.5 438.1,521.5 441.7,521.5 445.3,521.5 448.9,521.5 452.5,521.5 456.1,521.5 459.7,521.5 463.3,521.5 466.9,521.5 470.5,521.5 474.2,521.5 477.8,521.5 481.4,521.5 485.0,521.5 488.6,521.5 492.2,521.5 495.8,521.5 499.4,521.5 503.0,521.5 506.6,521.5 510.2,521.5 513.9,521.5 517.5,521.5 521.1,521.5 524.7,521.5 528.3,521.5 531.9,521.5 535.5,521.5 539.1,521.5 542.7,521.5 546.3,521.5 549.9,521.5 553.6,521.5 557.2,521.5 560.8,521.5 564.4,521.5 568.0,521.5 571.6,521.5 575.2,521.5 578.8,521.5 582.4,521.5 586.0,521.5 589.6,521.5 593.3,521.5 596.9,521.5 600.5,521.5 604.1,521.5 607.7,521.5 611.3,521.5 614.9,521.5 618.5,501.5 622.1,521.5 625.7,501.5 629.3,521.5 633.0,521.5 636.6,501.5 640.2,521.5 643.8,501.5 647.4,521.5 651.0,521.5 654.6,501.5 658.2,501.5 661.8,521.5 665.4,501.5 669.0,501.5 672.7,521.5 676.3,501.5 679.9,521.5 683.5,521.5 687.1,501.5 690.7,501.5 694.3,521.5 697.9,521.5 701.5,501.5 705.1,501.5 708.7,521.5 712.4,521.5 716.0,501.5 719.6,521.5 723.2,521.5 726.8,521.5 730.4,521.5 734.0,521.5 737.6,501.5 741.2,521.5 744.8,521.5 748.4,501.5 752.0,501.5 755.7,521.5 759.3,521.5 762.9,521.5 766.5,521.5 770.1,521.5 773.7,521.5 777.3,521.5 780.9,521.5 784.5,521.5 788.1,521.5 791.7,521.5 795.4,521.5 799.0,521.5 802.6,521.5 806.2,521.5 809.8,521.5 813.4,521.5 817.0,521.5 820.6,521.5 824.2,521.5 827.8,521.5 831.4,521.5 835.1,521.5 838.7,521.5 842.3,521.5 845.9,521.5 849.5,521.5 853.1,501.5 856.7,521.5 860.3,521.5 863.9,521.5 867.5,521.5 871.1,521.5 874.8,521.5 878.4,521.5 882.0,521.5 885.6,521.5 889.2,521.5 892.8,521.5 896.4,521.5 900.0,521.5 903.6,521.5 907.2,521.5 910.8,521.5 914.5,521.5 918.1,521.5 921.7,521.5 925.3,521.5 928.9,521.5 932.5,521.5 936.1,521.5 939.7,521.5 943.3,521.5 946.9,501.5 950.5,521.5 954.2,521.5 957.8,521.5 961.4,521.5 965.0,521.5 968.6,521.5 972.2,521.5 975.8,521.5 979.4,501.5 983.0,521.5 986.6,521.5 990.2,521.5 993.9,521.5 997.5,521.5 1001.1,521.5 1004.7,521.5 1008.3,521.5 1011.9,521.5 1015.5,521.5 1019.1,521.5 1022.7,521.5 1026.3,501.5 1029.9,521.5 1033.6,521.5 1037.2,521.5 1040.8,521.5 1044.4,501.5 1048.0,521.5 1051.6,521.5 1055.2,521.5 1058.8,521.5 1062.4,521.5 1066.0,521.5 1069.6,501.5 1073.2,521.5 1076.9,521.5 1080.5,521.5 1084.1,541.5 1087.7,521.5 1091.3,521.5 1094.9,521.5 1098.5,521.5 1102.1,521.5 1105.7,521.5 1109.3,521.5 1112.9,521.5 1116.6,521.5 1120.2,521.5 1123.8,521.5 1127.4,521.5 1131.0,521.5 1134.6,521.5 1138.2,521.5 1141.8,521.5 1145.4,521.5 1149.0,521.5 1152.6,541.5 1156.3,521.5 1159.9,521.5 1163.5,541.5 1167.1,521.5 1170.7,521.5 1174.3,521.5 1177.9,521.5 1181.5,521.5 1185.1,521.5 1188.7,521.5 1192.3,521.5 1196.0,521.5 1199.6,521.5 1203.2,521.5 1206.8,521.5 1210.4,521.5 1214.0,521.5 1217.6,521.5 1221.2,521.5 1224.8,521.5 1228.4,521.5 1232.0,521.5 1235.7,521.5 1239.3,521.5 1242.9,521.5 1246.5,521.5 1250.1,521.5 1253.7,521.5 1257.3,521.5 1260.9,521.5 1264.5,521.5 1268.1,521.5 1271.7,521.5 1275.4,521.5 1279.0,521.5 1282.6,521.5 1286.2,521.5 1289.8,521.5 1293.4,521.5 1297.0,521.5 1300.6,521.5 1304.2,541.5 1307.8,521.5 1311.4,541.5 1315.1,521.5 1318.7,521.5 1322.3,521.5 1325.9,521.5 1329.5,521.5 1333.1,521.5 1336.7,521.5 1340.3,541.5 1343.9,521.5 1347.5,521.5 1351.1,541.5 1354.8,521.5 1358.4,521.5 1362.0,541.5 1365.6,521.5 1369.2,521.5 1372.8,541.5 1376.4,521.5 1380.0,521.5 1383.6,521.5 1387.2,501.5 1390.8,521.5 1394.5,521.5 1398.1,521.5 1401.7,521.5 1405.3,521.5 1408.9,521.5 1412.5,501.5 1416.1,501.5 1419.7,521.5 1423.3,521.5 1426.9,521.5 1430.5,521.5 1434.2,521.5 1437.8,521.5 1441.4,521.5 1445.0,521.5 1448.6,521.5 1452.2,521.5 1455.8,521.5 1459.4,521.5 1463.0,521.5 1466.6,521.5 1470.2,521.5 1473.8,521.5 1477.5,521.5 1481.1,521.5 1484.7,521.5 1488.3,521.5 1491.9,521.5 1495.5,521.5 1499.1,521.5 1502.7,521.5 1506.3,521.5 1509.9,521.5 1513.5,521.5 1517.2,521.5 1520.8,541.5 1524.4,521.5 1528.0,521.5 1531.6,521.5 1535.2,521.5 1538.8,521.5 1542.4,521.5 1546.0,521.5 1549.6,521.5 1553.2,521.5 1556.9,521.5 1560.5,521.5 1564.1,521.5 1567.7,521.5 1571.3,521.5 1574.9,521.5 1578.5,521.5 1582.1,521.5 1585.7,521.5 1589.3,501.5 1592.9,521.5 1596.6,521.5 1600.2,521.5 1603.8,521.5 1607.4,521.5 1611.0,521.5 1614.6,521.5 1618.2,521.5 1621.8,521.5 1625.4,521.5 1629.0,521.5 1632.6,521.5 1636.3,521.5 1639.9,521.5 1643.5,521.5 1647.1,521.5 1650.7,521.5 1654.3,521.5 1657.9,521.5 1661.5,521.5 1665.1,521.5 1668.7,521.5 1672.3,541.5 1676.0,521.5 1679.6,521.5 1683.2,521.5 1686.8,521.5 1690.4,521.5 1694.0,521.5 1697.6,521.5 1701.2,521.5 1704.8,541.5 1708.4,521.5 1712.0,521.5 1715.7,521.5 1719.3,521.5 1722.9,521.5 1726.5,521.5 1730.1,521.5 1733.7,521.5 1737.3,521.5 1740.9,521.5 1744.5,521.5 1748.1,521.5 1751.7,521.5 1755.4,521.5 1759.0,521.5 1762.6,521.5 1766.2,541.5 1769.8,521.5 1773.4,521.5 1777.0,521.5 1780.6,521.5 1784.2,521.5 1787.8,521.5 1791.4,521.5 1795.0,521.5 1798.7,541.5 1802.3,521.5 1805.9,521.5 1809.5,521.5 1813.1,521.5 1816.7,521.5 1820.3,521.5 1823.9,521.5 1827.5,521.5 1831.1,521.5 1834.7,521.5 1838.4,521.5 1842.0,521.5 1845.6,521.5 1849.2,521.5 1852.8,521.5 1856.4,521.5 1860.0,521.5 1863.6,521.5 1867.2,521.5 1870.8,521.5 1874.4,521.5 1878.1,521.5 1881.7,521.5 1885.3,521.5 1888.9,521.5 1892.5,521.5 1896.1,521.5 1899.7,521.5 1903.3,521.5 1906.9,521.5 1910.5,521.5 1914.1,521.5 1917.8,521.5 1921.4,521.5 1925.0,521.5 1928.6,521.5 1932.2,521.5 1935.8,521.5 1939.4,521.5 1943.0,521.5 1946.6,521.5 1950.2,521.5 1953.8,521.5 1957.5,521.5 1961.1,541.5 1964.7,521.5 1968.3,521.5 1971.9,521.5 1975.5,521.5" fill="none" stroke="#EDB120" stroke-opacity="0.09" stroke-width="8.0" stroke-linejoin="miter" stroke-miterlimit="3"/>
<polyline points="171.0,540.0 174.6,540.0 178.2,540.0 181.8,540.0 185.4,540.0 189.0,560.0 192.7,560.0 196.3,540.0 199.9,540.0 203.5,540.0 207.1,540.0 210.7,540.0 214.3,540.0 217.9,520.0 221.5,520.0 225.1,520.0 228.7,520.0 232.4,520.0 236.0,520.0 239.6,520.0 243.2,520.0 246.8,520.0 250.4,520.0 254.0,520.0 257.6,520.0 261.2,520.0 264.8,520.0 268.4,520.0 272.1,520.0 275.7,520.0 279.3,520.0 282.9,520.0 286.5,520.0 290.1,520.0 293.7,520.0 297.3,520.0 300.9,520.0 304.5,520.0 308.1,520.0 311.8,520.0 315.4,520.0 319.0,520.0 322.6,520.0 326.2,520.0 329.8,520.0 333.4,520.0 337.0,520.0 340.6,520.0 344.2,520.0 347.8,520.0 351.4,520.0 355.1,520.0 358.7,520.0 362.3,520.0 365.9,520.0 369.5,520.0 373.1,520.0 376.7,520.0 380.3,520.0 383.9,520.0 387.5,520.0 391.1,520.0 394.8,520.0 398.4,520.0 402.0,520.0 405.6,520.0 409.2,520.0 412.8,520.0 416.4,520.0 420.0,520.0 423.6,520.0 427.2,520.0 430.8,520.0 434.5,520.0 438.1,520.0 441.7,520.0 445.3,520.0 448.9,520.0 452.5,520.0 456.1,520.0 459.7,520.0 463.3,520.0 466.9,520.0 470.5,520.0 474.2,520.0 477.8,520.0 481.4,520.0 485.0,520.0 488.6,520.0 492.2,520.0 495.8,520.0 499.4,520.0 503.0,520.0 506.6,520.0 510.2,520.0 513.9,520.0 517.5,520.0 521.1,520.0 524.7,520.0 528.3,520.0 531.9,520.0 535.5,520.0 539.1,520.0 542.7,520.0 546.3,520.0 549.9,520.0 553.6,520.0 557.2,520.0 560.8,520.0 564.4,520.0 568.0,520.0 571.6,520.0 575.2,520.0 578.8,520.0 582.4,520.0 586.0,520.0 589.6,520.0 593.3,520.0 596.9,520.0 600.5,520.0 604.1,520.0 607.7,520.0 611.3,520.0 614.9,520.0 618.5,500.0 622.1,520.0 625.7,500.0 629.3,520.0 633.0,520.0 636.6,500.0 640.2,520.0 643.8,500.0 647.4,520.0 651.0,520.0 654.6,500.0 658.2,500.0 661.8,520.0 665.4,500.0 669.0,500.0 672.7,520.0 676.3,500.0 679.9,520.0 683.5,520.0 687.1,500.0 690.7,500.0 694.3,520.0 697.9,520.0 701.5,500.0 705.1,500.0 708.7,520.0 712.4,520.0 716.0,500.0 719.6,520.0 723.2,520.0 726.8,520.0 730.4,520.0 734.0,520.0 737.6,500.0 741.2,520.0 744.8,520.0 748.4,500.0 752.0,500.0 755.7,520.0 759.3,520.0 762.9,520.0 766.5,520.0 770.1,520.0 773.7,520.0 777.3,520.0 780.9,520.0 784.5,520.0 788.1,520.0 791.7,520.0 795.4,520.0 799.0,520.0 802.6,520.0 806.2,520.0 809.8,520.0 813.4,520.0 817.0,520.0 820.6,520.0 824.2,520.0 827.8,520.0 831.4,520.0 835.1,520.0 838.7,520.0 842.3,520.0 845.9,520.0 849.5,520.0 853.1,500.0 856.7,520.0 860.3,520.0 863.9,520.0 867.5,520.0 871.1,520.0 874.8,520.0 878.4,520.0 882.0,520.0 885.6,520.0 889.2,520.0 892.8,520.0 896.4,520.0 900.0,520.0 903.6,520.0 907.2,520.0 910.8,520.0 914.5,520.0 918.1,520.0 921.7,520.0 925.3,520.0 928.9,520.0 932.5,520.0 936.1,520.0 939.7,520.0 943.3,520.0 946.9,500.0 950.5,520.0 954.2,520.0 957.8,520.0 961.4,520.0 965.0,520.0 968.6,520.0 972.2,520.0 975.8,520.0 979.4,500.0 983.0,520.0 986.6,520.0 990.2,520.0 993.9,520.0 997.5,520.0 1001.1,520.0 1004.7,520.0 1008.3,520.0 1011.9,520.0 1015.5,520.0 1019.1,520.0 1022.7,520.0 1026.3,500.0 1029.9,520.0 1033.6,520.0 1037.2,520.0 1040.8,520.0 1044.4,500.0 1048.0,520.0 1051.6,520.0 1055.2,520.0 1058.8,520.0 1062.4,520.0 1066.0,520.0 1069.6,500.0 1073.2,520.0 1076.9,520.0 1080.5,520.0 1084.1,540.0 1087.7,520.0 1091.3,520.0 1094.9,520.0 1098.5,520.0 1102.1,520.0 1105.7,520.0 1109.3,520.0 1112.9,520.0 1116.6,520.0 1120.2,520.0 1123.8,520.0 1127.4,520.0 1131.0,520.0 1134.6,520.0 1138.2,520.0 1141.8,520.0 1145.4,520.0 1149.0,520.0 1152.6,540.0 1156.3,520.0 1159.9,520.0 1163.5,540.0 1167.1,520.0 1170.7,520.0 1174.3,520.0 1177.9,520.0 1181.5,520.0 1185.1,520.0 1188.7,520.0 1192.3,520.0 1196.0,520.0 1199.6,520.0 1203.2,520.0 1206.8,520.0 1210.4,520.0 1214.0,520.0 1217.6,520.0 1221.2,520.0 1224.8,520.0 1228.4,520.0 1232.0,520.0 1235.7,520.0 1239.3,520.0 1242.9,520.0 1246.5,520.0 1250.1,520.0 1253.7,520.0 1257.3,520.0 1260.9,520.0 1264.5,520.0 1268.1,520.0 1271.7,520.0 1275.4,520.0 1279.0,520.0 1282.6,520.0 1286.2,520.0 1289.8,520.0 1293.4,520.0 1297.0,520.0 1300.6,520.0 1304.2,540.0 1307.8,520.0 1311.4,540.0 1315.1,520.0 1318.7,520.0 1322.3,520.0 1325.9,520.0 1329.5,520.0 1333.1,520.0 1336.7,520.0 1340.3,540.0 1343.9,520.0 1347.5,520.0 1351.1,540.0 1354.8,520.0 1358.4,520.0 1362.0,540.0 1365.6,520.0 1369.2,520.0 1372.8,540.0 1376.4,520.0 1380.0,520.0 1383.6,520.0 1387.2,500.0 1390.8,520.0 1394.5,520.0 1398.1,520.0 1401.7,520.0 1405.3,520.0 1408.9,520.0 1412.5,500.0 1416.1,500.0 1419.7,520.0 1423.3,520.0 1426.9,520.0 1430.5,520.0 1434.2,520.0 1437.8,520.0 1441.4,520.0 1445.0,520.0 1448.6,520.0 1452.2,520.0 1455.8,520.0 1459.4,520.0 1463.0,520.0 1466.6,520.0 1470.2,520.0 1473.8,520.0 1477.5,520.0 1481.1,520.0 1484.7,520.0 1488.3,520.0 1491.9,520.0 1495.5,520.0 1499.1,520.0 1502.7,520.0 1506.3,520.0 1509.9,520.0 1513.5,520.0 1517.2,520.0 1520.8,540.0 1524.4,520.0 1528.0,520.0 1531.6,520.0 1535.2,520.0 1538.8,520.0 1542.4,520.0 1546.0,520.0 1549.6,520.0 1553.2,520.0 1556.9,520.0 1560.5,520.0 1564.1,520.0 1567.7,520.0 1571.3,520.0 1574.9,520.0 1578.5,520.0 1582.1,520.0 1585.7,520.0 1589.3,500.0 1592.9,520.0 1596.6,520.0 1600.2,520.0 1603.8,520.0 1607.4,520.0 1611.0,520.0 1614.6,520.0 1618.2,520.0 1621.8,520.0 1625.4,520.0 1629.0,520.0 1632.6,520.0 1636.3,520.0 1639.9,520.0 1643.5,520.0 1647.1,520.0 1650.7,520.0 1654.3,520.0 1657.9,520.0 1661.5,520.0 1665.1,520.0 1668.7,520.0 1672.3,540.0 1676.0,520.0 1679.6,520.0 1683.2,520.0 1686.8,520.0 1690.4,520.0 1694.0,520.0 1697.6,520.0 1701.2,520.0 1704.8,540.0 1708.4,520.0 1712.0,520.0 1715.7,520.0 1719.3,520.0 1722.9,520.0 1726.5,520.0 1730.1,520.0 1733.7,520.0 1737.3,520.0 1740.9,520.0 1744.5,520.0 1748.1,520.0 1751.7,520.0 1755.4,520.0 1759.0,520.0 1762.6,520.0 1766.2,540.0 1769.8,520.0 1773.4,520.0 1777.0,520.0 1780.6,520.0 1784.2,520.0 1787.8,520.0 1791.4,520.0 1795.0,520.0 1798.7,540.0 1802.3,520.0 1805.9,520.0 1809.5,520.0 1813.1,520.0 1816.7,520.0 1820.3,520.0 1823.9,520.0 1827.5,520.0 1831.1,520.0 1834.7,520.0 1838.4,520.0 1842.0,520.0 1845.6,520.0 1849.2,520.0 1852.8,520.0 1856.4,520.0 1860.0,520.0 1863.6,520.0 1867.2,520.0 1870.8,520.0 1874.4,520.0 1878.1,520.0 1881.7,520.0 1885.3,520.0 1888.9,520.0 1892.5,520.0 1896.1,520.0 1899.7,520.0 1903.3,520.0 1906.9,520.0 1910.5,520.0 1914.1,520.0 1917.8,520.0 1921.4,520.0 1925.0,520.0 1928.6,520.0 1932.2,520.0 1935.8,520.0 1939.4,520.0 1943.0,520.0 1946.6,520.0 1950.2,520.0 1953.8,520.0 1957.5,520.0 1961.1,540.0 1964.7,520.0 1968.3,520.0 1971.9,520.0 1975.5,520.0" fill="none" stroke="#EDB120" stroke-opacity="0.88" stroke-width="4.0" stroke-linejoin="miter" stroke-miterlimit="3"/>
</g>
<path d="M350.0 678.0V660.0M350.0 82.0V100.0M529.0 678.0V660.0M529.0 82.0V100.0M713.0 678.0V660.0M713.0 82.0V100.0M892.0 678.0V660.0M892.0 82.0V100.0M1075.0 678.0V660.0M1075.0 82.0V100.0M1254.0 678.0V660.0M1254.0 82.0V100.0M1434.0 678.0V660.0M1434.0 82.0V100.0M1617.0 678.0V660.0M1617.0 82.0V100.0M1796.0 678.0V660.0M1796.0 82.0V100.0M171.0 182.0H189.0M1975.0 182.0H1957.0M171.0 282.0H189.0M1975.0 282.0H1957.0M171.0 382.0H189.0M1975.0 382.0H1957.0M171.0 482.0H189.0M1975.0 482.0H1957.0M171.0 582.0H189.0M1975.0 582.0H1957.0" stroke="#262626" stroke-width="4" fill="none"/>
<text x="145.5" y="96.8" class="tk" text-anchor="end">-40</text>
<text x="145.5" y="196.8" class="tk" text-anchor="end">-45</text>
<text x="145.5" y="296.8" class="tk" text-anchor="end">-50</text>
<text x="145.5" y="396.8" class="tk" text-anchor="end">-55</text>
<text x="145.5" y="496.8" class="tk" text-anchor="end">-60</text>
<text x="145.5" y="596.8" class="tk" text-anchor="end">-65</text>
<text x="145.5" y="696.8" class="tk" text-anchor="end">-70</text>
<text x="167.1" y="738.8" class="tk" text-anchor="middle">0</text>
<text x="346.5" y="738.8" class="tk" text-anchor="middle">50</text>
<text x="533.1" y="738.8" class="tk" text-anchor="middle">100</text>
<text x="712.2" y="738.8" class="tk" text-anchor="middle">150</text>
<text x="891.5" y="738.8" class="tk" text-anchor="middle">200</text>
<text x="1073.3" y="738.8" class="tk" text-anchor="middle">250</text>
<text x="1253.6" y="738.8" class="tk" text-anchor="middle">300</text>
<text x="1435.4" y="738.8" class="tk" text-anchor="middle">350</text>
<text x="1615.8" y="738.8" class="tk" text-anchor="middle">400</text>
<text x="1796.9" y="738.8" class="tk" text-anchor="middle">450</text>
<text x="1978.0" y="738.8" class="tk" text-anchor="middle">500</text>
<text x="1075.5" y="800.9" class="lb" text-anchor="middle">Samples</text>
<text transform="translate(60.1 380.3) rotate(-90)" class="lb" text-anchor="middle">RSSI [dB])</text>
<text x="1070.9" y="54.8" class="tt" text-anchor="middle">Device C Raw</text>
<rect x="213.0" y="482.0" width="366.0" height="154.0" fill="#fff" stroke="#262626" stroke-width="4"/>
<line x1="227.4" y1="511.5" x2="355.7" y2="511.5" stroke="#0072BD" stroke-width="3.8"/>
<text x="366.0" y="529.9" class="lg" textLength="198.4" lengthAdjust="spacingAndGlyphs">RSSI 1.09m</text>
<line x1="227.4" y1="561.5" x2="355.7" y2="561.5" stroke="#D95319" stroke-width="3.8"/>
<text x="366.0" y="575.3" class="lg" textLength="198.4" lengthAdjust="spacingAndGlyphs">RSSI 3.15m</text>
<line x1="227.4" y1="607.4" x2="355.7" y2="607.4" stroke="#EDB120" stroke-width="3.8"/>
<text x="366.0" y="621.1" class="lg" textLength="198.4" lengthAdjust="spacingAndGlyphs">RSSI 5.14m</text>
</g>
<g><text transform="translate(973.10 942.80) scale(0.900 1)" class="cap" style="font-size:78.1px">(</text><text transform="translate(996.60 943.20) scale(0.960 1)" class="cap" style="font-size:75.4px;font-weight:bold">c</text><text transform="translate(1028.80 942.80) scale(0.900 1)" class="cap" style="font-size:78.1px">)</text></g>
<g>
<rect x="163.0" y="1189.0" width="1804.0" height="596.0" fill="none" stroke="#262626" stroke-width="4"/>
<clipPath id="clipD"><rect x="154.7" y="1187.1" width="1814.5" height="599.7"/></clipPath>
<g clip-path="url(#clipD)">
<polyline points="162.7,1407.5 162.7,1527.5 166.3,1527.5 169.9,1527.5 173.5,1527.5 177.1,1527.5 180.7,1507.5 184.4,1507.5 188.0,1507.5 191.6,1507.5 195.2,1527.5 198.8,1507.5 202.4,1507.5 206.0,1507.5 209.6,1507.5 213.2,1507.5 216.8,1527.5 220.4,1507.5 224.1,1507.5 227.7,1507.5 231.3,1527.5 234.9,1507.5 238.5,1507.5 242.1,1507.5 245.7,1507.5 249.3,1507.5 252.9,1547.5 256.5,1487.5 260.1,1507.5 263.8,1527.5 267.4,1507.5 271.0,1507.5 274.6,1527.5 278.2,1507.5 281.8,1527.5 285.4,1507.5 289.0,1507.5 292.6,1507.5 296.2,1507.5 299.8,1507.5 303.5,1527.5 307.1,1507.5 310.7,1527.5 314.3,1507.5 317.9,1507.5 321.5,1507.5 325.1,1507.5 328.7,1507.5 332.3,1507.5 335.9,1507.5 339.5,1507.5 343.1,1507.5 346.8,1507.5 350.4,1507.5 354.0,1507.5 357.6,1507.5 361.2,1507.5 364.8,1507.5 368.4,1507.5 372.0,1507.5 375.6,1507.5 379.2,1507.5 382.8,1507.5 386.5,1507.5 390.1,1507.5 393.7,1507.5 397.3,1507.5 400.9,1507.5 404.5,1507.5 408.1,1507.5 411.7,1507.5 415.3,1507.5 418.9,1507.5 422.5,1507.5 426.2,1507.5 429.8,1507.5 433.4,1507.5 437.0,1507.5 440.6,1507.5 444.2,1507.5 447.8,1507.5 451.4,1507.5 455.0,1507.5 458.6,1507.5 462.2,1527.5 465.9,1507.5 469.5,1507.5 473.1,1507.5 476.7,1507.5 480.3,1507.5 483.9,1507.5 487.5,1507.5 491.1,1507.5 494.7,1527.5 498.3,1507.5 501.9,1507.5 505.6,1507.5 509.2,1507.5 512.8,1507.5 516.4,1507.5 520.0,1507.5 523.6,1507.5 527.2,1527.5 530.8,1527.5 534.4,1507.5 538.0,1487.5 541.6,1547.5 545.3,1527.5 548.9,1507.5 552.5,1507.5 556.1,1507.5 559.7,1507.5 563.3,1507.5 566.9,1507.5 570.5,1507.5 574.1,1507.5 577.7,1507.5 581.3,1507.5 585.0,1507.5 588.6,1507.5 592.2,1507.5 595.8,1507.5 599.4,1507.5 603.0,1507.5 606.6,1507.5 610.2,1507.5 613.8,1507.5 617.4,1507.5 621.0,1507.5 624.7,1507.5 628.3,1507.5 631.9,1507.5 635.5,1507.5 639.1,1507.5 642.7,1507.5 646.3,1507.5 649.9,1507.5 653.5,1507.5 657.1,1527.5 660.7,1507.5 664.4,1507.5 668.0,1507.5 671.6,1507.5 675.2,1507.5 678.8,1507.5 682.4,1507.5 686.0,1507.5 689.6,1507.5 693.2,1507.5 696.8,1507.5 700.4,1507.5 704.0,1507.5 707.7,1527.5 711.3,1507.5 714.9,1507.5 718.5,1507.5 722.1,1527.5 725.7,1507.5 729.3,1527.5 732.9,1507.5 736.5,1507.5 740.1,1507.5 743.7,1507.5 747.4,1507.5 751.0,1507.5 754.6,1527.5 758.2,1507.5 761.8,1487.5 765.4,1507.5 769.0,1527.5 772.6,1507.5 776.2,1507.5 779.8,1507.5 783.4,1507.5 787.1,1507.5 790.7,1507.5 794.3,1507.5 797.9,1507.5 801.5,1507.5 805.1,1507.5 808.7,1507.5 812.3,1507.5 815.9,1507.5 819.5,1507.5 823.1,1507.5 826.8,1507.5 830.4,1507.5 834.0,1507.5 837.6,1507.5 841.2,1507.5 844.8,1507.5 848.4,1507.5 852.0,1507.5 855.6,1507.5 859.2,1507.5 862.8,1507.5 866.5,1507.5 870.1,1507.5 873.7,1507.5 877.3,1507.5 880.9,1507.5 884.5,1507.5 888.1,1507.5 891.7,1507.5 895.3,1507.5 898.9,1507.5 902.5,1507.5 906.2,1527.5 909.8,1507.5 913.4,1507.5 917.0,1507.5 920.6,1507.5 924.2,1507.5 927.8,1507.5 931.4,1507.5 935.0,1507.5 938.6,1507.5 942.2,1507.5 945.9,1507.5 949.5,1507.5 953.1,1507.5 956.7,1507.5 960.3,1507.5 963.9,1507.5 967.5,1507.5 971.1,1507.5 974.7,1507.5 978.3,1507.5 981.9,1507.5 985.6,1507.5 989.2,1507.5 992.8,1507.5 996.4,1507.5 1000.0,1507.5 1003.6,1507.5 1007.2,1507.5 1010.8,1507.5 1014.4,1507.5 1018.0,1507.5 1021.6,1507.5 1025.3,1507.5 1028.9,1507.5 1032.5,1507.5 1036.1,1507.5 1039.7,1507.5 1043.3,1507.5 1046.9,1507.5 1050.5,1507.5 1054.1,1507.5 1057.7,1507.5 1061.3,1507.5 1065.0,1507.5 1068.6,1507.5 1072.2,1507.5 1075.8,1507.5 1079.4,1507.5 1083.0,1507.5 1086.6,1507.5 1090.2,1507.5 1093.8,1527.5 1097.4,1507.5 1101.0,1507.5 1104.6,1527.5 1108.3,1507.5 1111.9,1507.5 1115.5,1507.5 1119.1,1507.5 1122.7,1507.5 1126.3,1507.5 1129.9,1507.5 1133.5,1507.5 1137.1,1507.5 1140.7,1507.5 1144.3,1507.5 1148.0,1507.5 1151.6,1507.5 1155.2,1507.5 1158.8,1507.5 1162.4,1507.5 1166.0,1507.5 1169.6,1507.5 1173.2,1507.5 1176.8,1507.5 1180.4,1507.5 1184.0,1507.5 1187.7,1527.5 1191.3,1507.5 1194.9,1507.5 1198.5,1507.5 1202.1,1507.5 1205.7,1507.5 1209.3,1507.5 1212.9,1507.5 1216.5,1507.5 1220.1,1507.5 1223.7,1507.5 1227.4,1507.5 1231.0,1507.5 1234.6,1507.5 1238.2,1507.5 1241.8,1507.5 1245.4,1507.5 1249.0,1507.5 1252.6,1507.5 1256.2,1507.5 1259.8,1507.5 1263.4,1507.5 1267.1,1507.5 1270.7,1507.5 1274.3,1507.5 1277.9,1507.5 1281.5,1527.5 1285.1,1507.5 1288.7,1507.5 1292.3,1527.5 1295.9,1507.5 1299.5,1527.5 1303.1,1507.5 1306.8,1507.5 1310.4,1507.5 1314.0,1507.5 1317.6,1527.5 1321.2,1507.5 1324.8,1507.5 1328.4,1527.5 1332.0,1507.5 1335.6,1507.5 1339.2,1507.5 1342.8,1507.5 1346.5,1527.5 1350.1,1507.5 1353.7,1507.5 1357.3,1507.5 1360.9,1507.5 1364.5,1527.5 1368.1,1507.5 1371.7,1507.5 1375.3,1507.5 1378.9,1507.5 1382.5,1507.5 1386.2,1527.5 1389.8,1507.5 1393.4,1507.5 1397.0,1507.5 1400.6,1527.5 1404.2,1507.5 1407.8,1527.5 1411.4,1507.5 1415.0,1527.5 1418.6,1507.5 1422.2,1527.5 1425.9,1527.5 1429.5,1527.5 1433.1,1507.5 1436.7,1527.5 1440.3,1507.5 1443.9,1527.5 1447.5,1527.5 1451.1,1527.5 1454.7,1527.5 1458.3,1527.5 1461.9,1527.5 1465.5,1507.5 1469.2,1507.5 1472.8,1507.5 1476.4,1507.5 1480.0,1507.5 1483.6,1507.5 1487.2,1507.5 1490.8,1507.5 1494.4,1507.5 1498.0,1507.5 1501.6,1507.5 1505.2,1507.5 1508.9,1507.5 1512.5,1527.5 1516.1,1507.5 1519.7,1527.5 1523.3,1507.5 1526.9,1507.5 1530.5,1507.5 1534.1,1507.5 1537.7,1507.5 1541.3,1507.5 1544.9,1527.5 1548.6,1507.5 1552.2,1507.5 1555.8,1507.5 1559.4,1507.5 1563.0,1507.5 1566.6,1507.5 1570.2,1507.5 1573.8,1527.5 1577.4,1507.5 1581.0,1507.5 1584.6,1507.5 1588.3,1507.5 1591.9,1507.5 1595.5,1507.5 1599.1,1527.5 1602.7,1507.5 1606.3,1507.5 1609.9,1507.5 1613.5,1507.5 1617.1,1527.5 1620.7,1507.5 1624.3,1507.5 1628.0,1527.5 1631.6,1507.5 1635.2,1527.5 1638.8,1507.5 1642.4,1507.5 1646.0,1507.5 1649.6,1507.5 1653.2,1507.5 1656.8,1507.5 1660.4,1507.5 1664.0,1507.5 1667.7,1507.5 1671.3,1527.5 1674.9,1527.5 1678.5,1527.5 1682.1,1527.5 1685.7,1507.5 1689.3,1507.5 1692.9,1507.5 1696.5,1507.5 1700.1,1507.5 1703.7,1507.5 1707.4,1507.5 1711.0,1507.5 1714.6,1507.5 1718.2,1527.5 1721.8,1507.5 1725.4,1507.5 1729.0,1507.5 1732.6,1507.5 1736.2,1507.5 1739.8,1507.5 1743.4,1507.5 1747.1,1527.5 1750.7,1507.5 1754.3,1527.5 1757.9,1507.5 1761.5,1507.5 1765.1,1527.5 1768.7,1507.5 1772.3,1527.5 1775.9,1507.5 1779.5,1527.5 1783.1,1507.5 1786.8,1507.5 1790.4,1507.5 1794.0,1507.5 1797.6,1507.5 1801.2,1507.5 1804.8,1507.5 1808.4,1507.5 1812.0,1507.5 1815.6,1507.5 1819.2,1527.5 1822.8,1507.5 1826.4,1527.5 1830.1,1507.5 1833.7,1527.5 1837.3,1507.5 1840.9,1527.5 1844.5,1507.5 1848.1,1507.5 1851.7,1507.5 1855.3,1507.5 1858.9,1507.5 1862.5,1507.5 1866.1,1527.5 1869.8,1507.5 1873.4,1507.5 1877.0,1507.5 1880.6,1507.5 1884.2,1507.5 1887.8,1507.5 1891.4,1507.5 1895.0,1507.5 1898.6,1507.5 1902.2,1507.5 1905.8,1527.5 1909.5,1507.5 1913.1,1507.5 1916.7,1527.5 1920.3,1507.5 1923.9,1507.5 1927.5,1527.5 1931.1,1507.5 1934.7,1507.5 1938.3,1507.5 1941.9,1507.5 1945.5,1507.5 1949.2,1507.5 1952.8,1507.5 1956.4,1507.5 1960.0,1507.5 1963.6,1527.5 1967.2,1527.5" fill="none" stroke="#0072BD" stroke-opacity="0.09" stroke-width="8.0" stroke-linejoin="miter" stroke-miterlimit="3"/>
<polyline points="162.7,1406.0 162.7,1526.0 166.3,1526.0 169.9,1526.0 173.5,1526.0 177.1,1526.0 180.7,1506.0 184.4,1506.0 188.0,1506.0 191.6,1506.0 195.2,1526.0 198.8,1506.0 202.4,1506.0 206.0,1506.0 209.6,1506.0 213.2,1506.0 216.8,1526.0 220.4,1506.0 224.1,1506.0 227.7,1506.0 231.3,1526.0 234.9,1506.0 238.5,1506.0 242.1,1506.0 245.7,1506.0 249.3,1506.0 252.9,1546.0 256.5,1486.0 260.1,1506.0 263.8,1526.0 267.4,1506.0 271.0,1506.0 274.6,1526.0 278.2,1506.0 281.8,1526.0 285.4,1506.0 289.0,1506.0 292.6,1506.0 296.2,1506.0 299.8,1506.0 303.5,1526.0 307.1,1506.0 310.7,1526.0 314.3,1506.0 317.9,1506.0 321.5,1506.0 325.1,1506.0 328.7,1506.0 332.3,1506.0 335.9,1506.0 339.5,1506.0 343.1,1506.0 346.8,1506.0 350.4,1506.0 354.0,1506.0 357.6,1506.0 361.2,1506.0 364.8,1506.0 368.4,1506.0 372.0,1506.0 375.6,1506.0 379.2,1506.0 382.8,1506.0 386.5,1506.0 390.1,1506.0 393.7,1506.0 397.3,1506.0 400.9,1506.0 404.5,1506.0 408.1,1506.0 411.7,1506.0 415.3,1506.0 418.9,1506.0 422.5,1506.0 426.2,1506.0 429.8,1506.0 433.4,1506.0 437.0,1506.0 440.6,1506.0 444.2,1506.0 447.8,1506.0 451.4,1506.0 455.0,1506.0 458.6,1506.0 462.2,1526.0 465.9,1506.0 469.5,1506.0 473.1,1506.0 476.7,1506.0 480.3,1506.0 483.9,1506.0 487.5,1506.0 491.1,1506.0 494.7,1526.0 498.3,1506.0 501.9,1506.0 505.6,1506.0 509.2,1506.0 512.8,1506.0 516.4,1506.0 520.0,1506.0 523.6,1506.0 527.2,1526.0 530.8,1526.0 534.4,1506.0 538.0,1486.0 541.6,1546.0 545.3,1526.0 548.9,1506.0 552.5,1506.0 556.1,1506.0 559.7,1506.0 563.3,1506.0 566.9,1506.0 570.5,1506.0 574.1,1506.0 577.7,1506.0 581.3,1506.0 585.0,1506.0 588.6,1506.0 592.2,1506.0 595.8,1506.0 599.4,1506.0 603.0,1506.0 606.6,1506.0 610.2,1506.0 613.8,1506.0 617.4,1506.0 621.0,1506.0 624.7,1506.0 628.3,1506.0 631.9,1506.0 635.5,1506.0 639.1,1506.0 642.7,1506.0 646.3,1506.0 649.9,1506.0 653.5,1506.0 657.1,1526.0 660.7,1506.0 664.4,1506.0 668.0,1506.0 671.6,1506.0 675.2,1506.0 678.8,1506.0 682.4,1506.0 686.0,1506.0 689.6,1506.0 693.2,1506.0 696.8,1506.0 700.4,1506.0 704.0,1506.0 707.7,1526.0 711.3,1506.0 714.9,1506.0 718.5,1506.0 722.1,1526.0 725.7,1506.0 729.3,1526.0 732.9,1506.0 736.5,1506.0 740.1,1506.0 743.7,1506.0 747.4,1506.0 751.0,1506.0 754.6,1526.0 758.2,1506.0 761.8,1486.0 765.4,1506.0 769.0,1526.0 772.6,1506.0 776.2,1506.0 779.8,1506.0 783.4,1506.0 787.1,1506.0 790.7,1506.0 794.3,1506.0 797.9,1506.0 801.5,1506.0 805.1,1506.0 808.7,1506.0 812.3,1506.0 815.9,1506.0 819.5,1506.0 823.1,1506.0 826.8,1506.0 830.4,1506.0 834.0,1506.0 837.6,1506.0 841.2,1506.0 844.8,1506.0 848.4,1506.0 852.0,1506.0 855.6,1506.0 859.2,1506.0 862.8,1506.0 866.5,1506.0 870.1,1506.0 873.7,1506.0 877.3,1506.0 880.9,1506.0 884.5,1506.0 888.1,1506.0 891.7,1506.0 895.3,1506.0 898.9,1506.0 902.5,1506.0 906.2,1526.0 909.8,1506.0 913.4,1506.0 917.0,1506.0 920.6,1506.0 924.2,1506.0 927.8,1506.0 931.4,1506.0 935.0,1506.0 938.6,1506.0 942.2,1506.0 945.9,1506.0 949.5,1506.0 953.1,1506.0 956.7,1506.0 960.3,1506.0 963.9,1506.0 967.5,1506.0 971.1,1506.0 974.7,1506.0 978.3,1506.0 981.9,1506.0 985.6,1506.0 989.2,1506.0 992.8,1506.0 996.4,1506.0 1000.0,1506.0 1003.6,1506.0 1007.2,1506.0 1010.8,1506.0 1014.4,1506.0 1018.0,1506.0 1021.6,1506.0 1025.3,1506.0 1028.9,1506.0 1032.5,1506.0 1036.1,1506.0 1039.7,1506.0 1043.3,1506.0 1046.9,1506.0 1050.5,1506.0 1054.1,1506.0 1057.7,1506.0 1061.3,1506.0 1065.0,1506.0 1068.6,1506.0 1072.2,1506.0 1075.8,1506.0 1079.4,1506.0 1083.0,1506.0 1086.6,1506.0 1090.2,1506.0 1093.8,1526.0 1097.4,1506.0 1101.0,1506.0 1104.6,1526.0 1108.3,1506.0 1111.9,1506.0 1115.5,1506.0 1119.1,1506.0 1122.7,1506.0 1126.3,1506.0 1129.9,1506.0 1133.5,1506.0 1137.1,1506.0 1140.7,1506.0 1144.3,1506.0 1148.0,1506.0 1151.6,1506.0 1155.2,1506.0 1158.8,1506.0 1162.4,1506.0 1166.0,1506.0 1169.6,1506.0 1173.2,1506.0 1176.8,1506.0 1180.4,1506.0 1184.0,1506.0 1187.7,1526.0 1191.3,1506.0 1194.9,1506.0 1198.5,1506.0 1202.1,1506.0 1205.7,1506.0 1209.3,1506.0 1212.9,1506.0 1216.5,1506.0 1220.1,1506.0 1223.7,1506.0 1227.4,1506.0 1231.0,1506.0 1234.6,1506.0 1238.2,1506.0 1241.8,1506.0 1245.4,1506.0 1249.0,1506.0 1252.6,1506.0 1256.2,1506.0 1259.8,1506.0 1263.4,1506.0 1267.1,1506.0 1270.7,1506.0 1274.3,1506.0 1277.9,1506.0 1281.5,1526.0 1285.1,1506.0 1288.7,1506.0 1292.3,1526.0 1295.9,1506.0 1299.5,1526.0 1303.1,1506.0 1306.8,1506.0 1310.4,1506.0 1314.0,1506.0 1317.6,1526.0 1321.2,1506.0 1324.8,1506.0 1328.4,1526.0 1332.0,1506.0 1335.6,1506.0 1339.2,1506.0 1342.8,1506.0 1346.5,1526.0 1350.1,1506.0 1353.7,1506.0 1357.3,1506.0 1360.9,1506.0 1364.5,1526.0 1368.1,1506.0 1371.7,1506.0 1375.3,1506.0 1378.9,1506.0 1382.5,1506.0 1386.2,1526.0 1389.8,1506.0 1393.4,1506.0 1397.0,1506.0 1400.6,1526.0 1404.2,1506.0 1407.8,1526.0 1411.4,1506.0 1415.0,1526.0 1418.6,1506.0 1422.2,1526.0 1425.9,1526.0 1429.5,1526.0 1433.1,1506.0 1436.7,1526.0 1440.3,1506.0 1443.9,1526.0 1447.5,1526.0 1451.1,1526.0 1454.7,1526.0 1458.3,1526.0 1461.9,1526.0 1465.5,1506.0 1469.2,1506.0 1472.8,1506.0 1476.4,1506.0 1480.0,1506.0 1483.6,1506.0 1487.2,1506.0 1490.8,1506.0 1494.4,1506.0 1498.0,1506.0 1501.6,1506.0 1505.2,1506.0 1508.9,1506.0 1512.5,1526.0 1516.1,1506.0 1519.7,1526.0 1523.3,1506.0 1526.9,1506.0 1530.5,1506.0 1534.1,1506.0 1537.7,1506.0 1541.3,1506.0 1544.9,1526.0 1548.6,1506.0 1552.2,1506.0 1555.8,1506.0 1559.4,1506.0 1563.0,1506.0 1566.6,1506.0 1570.2,1506.0 1573.8,1526.0 1577.4,1506.0 1581.0,1506.0 1584.6,1506.0 1588.3,1506.0 1591.9,1506.0 1595.5,1506.0 1599.1,1526.0 1602.7,1506.0 1606.3,1506.0 1609.9,1506.0 1613.5,1506.0 1617.1,1526.0 1620.7,1506.0 1624.3,1506.0 1628.0,1526.0 1631.6,1506.0 1635.2,1526.0 1638.8,1506.0 1642.4,1506.0 1646.0,1506.0 1649.6,1506.0 1653.2,1506.0 1656.8,1506.0 1660.4,1506.0 1664.0,1506.0 1667.7,1506.0 1671.3,1526.0 1674.9,1526.0 1678.5,1526.0 1682.1,1526.0 1685.7,1506.0 1689.3,1506.0 1692.9,1506.0 1696.5,1506.0 1700.1,1506.0 1703.7,1506.0 1707.4,1506.0 1711.0,1506.0 1714.6,1506.0 1718.2,1526.0 1721.8,1506.0 1725.4,1506.0 1729.0,1506.0 1732.6,1506.0 1736.2,1506.0 1739.8,1506.0 1743.4,1506.0 1747.1,1526.0 1750.7,1506.0 1754.3,1526.0 1757.9,1506.0 1761.5,1506.0 1765.1,1526.0 1768.7,1506.0 1772.3,1526.0 1775.9,1506.0 1779.5,1526.0 1783.1,1506.0 1786.8,1506.0 1790.4,1506.0 1794.0,1506.0 1797.6,1506.0 1801.2,1506.0 1804.8,1506.0 1808.4,1506.0 1812.0,1506.0 1815.6,1506.0 1819.2,1526.0 1822.8,1506.0 1826.4,1526.0 1830.1,1506.0 1833.7,1526.0 1837.3,1506.0 1840.9,1526.0 1844.5,1506.0 1848.1,1506.0 1851.7,1506.0 1855.3,1506.0 1858.9,1506.0 1862.5,1506.0 1866.1,1526.0 1869.8,1506.0 1873.4,1506.0 1877.0,1506.0 1880.6,1506.0 1884.2,1506.0 1887.8,1506.0 1891.4,1506.0 1895.0,1506.0 1898.6,1506.0 1902.2,1506.0 1905.8,1526.0 1909.5,1506.0 1913.1,1506.0 1916.7,1526.0 1920.3,1506.0 1923.9,1506.0 1927.5,1526.0 1931.1,1506.0 1934.7,1506.0 1938.3,1506.0 1941.9,1506.0 1945.5,1506.0 1949.2,1506.0 1952.8,1506.0 1956.4,1506.0 1960.0,1506.0 1963.6,1526.0 1967.2,1526.0" fill="none" stroke="#0072BD" stroke-opacity="0.88" stroke-width="4.0" stroke-linejoin="miter" stroke-miterlimit="3"/>
<polyline points="162.7,1667.5 162.7,1767.5 166.3,1767.5 169.9,1747.5 173.5,1667.5 177.1,1667.5 180.7,1647.5 184.4,1627.5 188.0,1627.5 191.6,1647.5 195.2,1647.5 198.8,1667.5 202.4,1747.5 206.0,1647.5 209.6,1667.5 213.2,1627.5 216.8,1627.5 220.4,1647.5 224.1,1667.5 227.7,1647.5 231.3,1627.5 234.9,1687.5 238.5,1627.5 242.1,1747.5 245.7,1627.5 249.3,1627.5 252.9,1627.5 256.5,1767.5 260.1,1647.5 263.8,1627.5 267.4,1647.5 271.0,1647.5 274.6,1767.5 278.2,1647.5 281.8,1627.5 285.4,1767.5 289.0,1627.5 292.6,1647.5 296.2,1647.5 299.8,1627.5 303.5,1647.5 307.1,1647.5 310.7,1787.5 314.3,1647.5 317.9,1647.5 321.5,1627.5 325.1,1647.5 328.7,1647.5 332.3,1747.5 335.9,1647.5 339.5,1627.5 343.1,1687.5 346.8,1627.5 350.4,1647.5 354.0,1647.5 357.6,1627.5 361.2,1647.5 364.8,1627.5 368.4,1747.5 372.0,1647.5 375.6,1647.5 379.2,1667.5 382.8,1627.5 386.5,1647.5 390.1,1647.5 393.7,1647.5 397.3,1647.5 400.9,1667.5 404.5,1667.5 408.1,1647.5 411.7,1647.5 415.3,1627.5 418.9,1647.5 422.5,1647.5 426.2,1687.5 429.8,1667.5 433.4,1627.5 437.0,1747.5 440.6,1647.5 444.2,1627.5 447.8,1647.5 451.4,1627.5 455.0,1627.5 458.6,1627.5 462.2,1647.5 465.9,1627.5 469.5,1627.5 473.1,1627.5 476.7,1747.5 480.3,1627.5 483.9,1647.5 487.5,1647.5 491.1,1667.5 494.7,1747.5 498.3,1667.5 501.9,1627.5 505.6,1647.5 509.2,1627.5 512.8,1667.5 516.4,1687.5 520.0,1627.5 523.6,1627.5 527.2,1627.5 530.8,1747.5 534.4,1647.5 538.0,1647.5 541.6,1627.5 545.3,1627.5 548.9,1767.5 552.5,1627.5 556.1,1647.5 559.7,1687.5 563.3,1647.5 566.9,1647.5 570.5,1647.5 574.1,1647.5 577.7,1627.5 581.3,1667.5 585.0,1747.5 588.6,1667.5 592.2,1647.5 595.8,1627.5 599.4,1627.5 603.0,1747.5 606.6,1647.5 610.2,1627.5 613.8,1627.5 617.4,1627.5 621.0,1627.5 624.7,1627.5 628.3,1707.5 631.9,1627.5 635.5,1627.5 639.1,1627.5 642.7,1627.5 646.3,1627.5 649.9,1667.5 653.5,1647.5 657.1,1707.5 660.7,1627.5 664.4,1627.5 668.0,1627.5 671.6,1627.5 675.2,1767.5 678.8,1687.5 682.4,1647.5 686.0,1647.5 689.6,1627.5 693.2,1767.5 696.8,1627.5 700.4,1627.5 704.0,1667.5 707.7,1627.5 711.3,1727.5 714.9,1687.5 718.5,1647.5 722.1,1627.5 725.7,1647.5 729.3,1747.5 732.9,1647.5 736.5,1687.5 740.1,1667.5 743.7,1647.5 747.4,1747.5 751.0,1627.5 754.6,1627.5 758.2,1647.5 761.8,1647.5 765.4,1787.5 769.0,1627.5 772.6,1627.5 776.2,1647.5 779.8,1687.5 783.4,1787.5 787.1,1647.5 790.7,1647.5 794.3,1647.5 797.9,1627.5 801.5,1747.5 805.1,1627.5 808.7,1627.5 812.3,1627.5 815.9,1627.5 819.5,1747.5 823.1,1647.5 826.8,1687.5 830.4,1647.5 834.0,1667.5 837.6,1747.5 841.2,1687.5 844.8,1627.5 848.4,1627.5 852.0,1627.5 855.6,1747.5 859.2,1627.5 862.8,1647.5 866.5,1667.5 870.1,1667.5 873.7,1767.5 877.3,1647.5 880.9,1647.5 884.5,1627.5 888.1,1647.5 891.7,1767.5 895.3,1647.5 898.9,1647.5 902.5,1647.5 906.2,1627.5 909.8,1727.5 913.4,1627.5 917.0,1647.5 920.6,1687.5 924.2,1727.5 927.8,1647.5 931.4,1667.5 935.0,1647.5 938.6,1627.5 942.2,1627.5 945.9,1747.5 949.5,1667.5 953.1,1647.5 956.7,1627.5 960.3,1667.5 963.9,1707.5 967.5,1647.5 971.1,1627.5 974.7,1647.5 978.3,1627.5 981.9,1727.5 985.6,1687.5 989.2,1647.5 992.8,1647.5 996.4,1667.5 1000.0,1687.5 1003.6,1667.5 1007.2,1667.5 1010.8,1627.5 1014.4,1627.5 1018.0,1727.5 1021.6,1627.5 1025.3,1647.5 1028.9,1627.5 1032.5,1647.5 1036.1,1707.5 1039.7,1667.5 1043.3,1627.5 1046.9,1647.5 1050.5,1647.5 1054.1,1707.5 1057.7,1647.5 1061.3,1667.5 1065.0,1647.5 1068.6,1647.5 1072.2,1707.5 1075.8,1627.5 1079.4,1647.5 1083.0,1627.5 1086.6,1627.5 1090.2,1727.5 1093.8,1627.5 1097.4,1647.5 1101.0,1647.5 1104.6,1647.5 1108.3,1727.5 1111.9,1647.5 1115.5,1647.5 1119.1,1647.5 1122.7,1627.5 1126.3,1707.5 1129.9,1627.5 1133.5,1627.5 1137.1,1647.5 1140.7,1647.5 1144.3,1747.5 1148.0,1647.5 1151.6,1667.5 1155.2,1647.5 1158.8,1647.5 1162.4,1687.5 1166.0,1647.5 1169.6,1647.5 1173.2,1647.5 1176.8,1647.5 1180.4,1707.5 1184.0,1667.5 1187.7,1647.5 1191.3,1667.5 1194.9,1667.5 1198.5,1707.5 1202.1,1647.5 1205.7,1667.5 1209.3,1667.5 1212.9,1627.5 1216.5,1707.5 1220.1,1647.5 1223.7,1627.5 1227.4,1627.5 1231.0,1627.5 1234.6,1707.5 1238.2,1647.5 1241.8,1667.5 1245.4,1627.5 1249.0,1647.5 1252.6,1727.5 1256.2,1627.5 1259.8,1667.5 1263.4,1687.5 1267.1,1627.5 1270.7,1707.5 1274.3,1627.5 1277.9,1647.5 1281.5,1687.5 1285.1,1667.5 1288.7,1687.5 1292.3,1647.5 1295.9,1647.5 1299.5,1627.5 1303.1,1627.5 1306.8,1707.5 1310.4,1647.5 1314.0,1627.5 1317.6,1647.5 1321.2,1647.5 1324.8,1687.5 1328.4,1627.5 1332.0,1647.5 1335.6,1647.5 1339.2,1627.5 1342.8,1687.5 1346.5,1647.5 1350.1,1687.5 1353.7,1627.5 1357.3,1627.5 1360.9,1687.5 1364.5,1647.5 1368.1,1627.5 1371.7,1627.5 1375.3,1647.5 1378.9,1687.5 1382.5,1647.5 1386.2,1627.5 1389.8,1627.5 1393.4,1667.5 1397.0,1707.5 1400.6,1647.5 1404.2,1627.5 1407.8,1627.5 1411.4,1647.5 1415.0,1687.5 1418.6,1627.5 1422.2,1667.5 1425.9,1647.5 1429.5,1647.5 1433.1,1707.5 1436.7,1667.5 1440.3,1627.5 1443.9,1667.5 1447.5,1647.5 1451.1,1627.5 1454.7,1647.5 1458.3,1727.5 1461.9,1627.5 1465.5,1627.5 1469.2,1647.5 1472.8,1627.5 1476.4,1687.5 1480.0,1627.5 1483.6,1627.5 1487.2,1627.5 1490.8,1687.5 1494.4,1627.5 1498.0,1647.5 1501.6,1627.5 1505.2,1707.5 1508.9,1627.5 1512.5,1627.5 1516.1,1687.5 1519.7,1627.5 1523.3,1627.5 1526.9,1647.5 1530.5,1647.5 1534.1,1627.5 1537.7,1647.5 1541.3,1707.5 1544.9,1627.5 1548.6,1647.5 1552.2,1647.5 1555.8,1647.5 1559.4,1667.5 1563.0,1687.5 1566.6,1647.5 1570.2,1647.5 1573.8,1687.5 1577.4,1727.5 1581.0,1667.5 1584.6,1647.5 1588.3,1647.5 1591.9,1647.5 1595.5,1727.5 1599.1,1627.5 1602.7,1627.5 1606.3,1627.5 1609.9,1647.5 1613.5,1707.5 1617.1,1627.5 1620.7,1627.5 1624.3,1667.5 1628.0,1667.5 1631.6,1727.5 1635.2,1627.5 1638.8,1627.5 1642.4,1627.5 1646.0,1647.5 1649.6,1727.5 1653.2,1647.5 1656.8,1627.5 1660.4,1687.5 1664.0,1687.5 1667.7,1647.5 1671.3,1627.5 1674.9,1747.5 1678.5,1627.5 1682.1,1627.5 1685.7,1667.5 1689.3,1627.5 1692.9,1647.5 1696.5,1647.5 1700.1,1627.5 1703.7,1727.5 1707.4,1627.5 1711.0,1647.5 1714.6,1627.5 1718.2,1567.5 1721.8,1567.5 1725.4,1547.5 1729.0,1547.5 1732.6,1547.5 1736.2,1547.5 1739.8,1567.5 1743.4,1587.5 1747.1,1587.5 1750.7,1627.5 1754.3,1647.5 1757.9,1667.5 1761.5,1787.5 1765.1,1667.5 1768.7,1627.5 1772.3,1647.5 1775.9,1647.5 1779.5,1627.5 1783.1,1667.5 1786.8,1667.5 1790.4,1647.5 1794.0,1647.5 1797.6,1747.5 1801.2,1627.5 1804.8,1647.5 1808.4,1647.5 1812.0,1667.5 1815.6,1727.5 1819.2,1667.5 1822.8,1647.5 1826.4,1667.5 1830.1,1647.5 1833.7,1647.5 1837.3,1747.5 1840.9,1627.5 1844.5,1627.5 1848.1,1627.5 1851.7,1627.5 1855.3,1667.5 1858.9,1647.5 1862.5,1647.5 1866.1,1647.5 1869.8,1767.5 1873.4,1647.5 1877.0,1627.5 1880.6,1647.5 1884.2,1767.5 1887.8,1647.5 1891.4,1647.5 1895.0,1647.5 1898.6,1627.5 1902.2,1647.5 1905.8,1627.5 1909.5,1787.5 1913.1,1627.5 1916.7,1647.5 1920.3,1627.5 1923.9,1747.5 1927.5,1687.5 1931.1,1647.5 1934.7,1627.5 1938.3,1647.5 1941.9,1727.5 1945.5,1647.5 1949.2,1647.5 1952.8,1647.5 1956.4,1627.5 1960.0,1747.5 1963.6,1627.5 1967.2,1747.5" fill="none" stroke="#D95319" stroke-opacity="0.09" stroke-width="8.0" stroke-linejoin="miter" stroke-miterlimit="3"/>
<polyline points="162.7,1666.0 162.7,1766.0 166.3,1766.0 169.9,1746.0 173.5,1666.0 177.1,1666.0 180.7,1646.0 184.4,1626.0 188.0,1626.0 191.6,1646.0 195.2,1646.0 198.8,1666.0 202.4,1746.0 206.0,1646.0 209.6,1666.0 213.2,1626.0 216.8,1626.0 220.4,1646.0 224.1,1666.0 227.7,1646.0 231.3,1626.0 234.9,1686.0 238.5,1626.0 242.1,1746.0 245.7,1626.0 249.3,1626.0 252.9,1626.0 256.5,1766.0 260.1,1646.0 263.8,1626.0 267.4,1646.0 271.0,1646.0 274.6,1766.0 278.2,1646.0 281.8,1626.0 285.4,1766.0 289.0,1626.0 292.6,1646.0 296.2,1646.0 299.8,1626.0 303.5,1646.0 307.1,1646.0 310.7,1786.0 314.3,1646.0 317.9,1646.0 321.5,1626.0 325.1,1646.0 328.7,1646.0 332.3,1746.0 335.9,1646.0 339.5,1626.0 343.1,1686.0 346.8,1626.0 350.4,1646.0 354.0,1646.0 357.6,1626.0 361.2,1646.0 364.8,1626.0 368.4,1746.0 372.0,1646.0 375.6,1646.0 379.2,1666.0 382.8,1626.0 386.5,1646.0 390.1,1646.0 393.7,1646.0 397.3,1646.0 400.9,1666.0 404.5,1666.0 408.1,1646.0 411.7,1646.0 415.3,1626.0 418.9,1646.0 422.5,1646.0 426.2,1686.0 429.8,1666.0 433.4,1626.0 437.0,1746.0 440.6,1646.0 444.2,1626.0 447.8,1646.0 451.4,1626.0 455.0,1626.0 458.6,1626.0 462.2,1646.0 465.9,1626.0 469.5,1626.0 473.1,1626.0 476.7,1746.0 480.3,1626.0 483.9,1646.0 487.5,1646.0 491.1,1666.0 494.7,1746.0 498.3,1666.0 501.9,1626.0 505.6,1646.0 509.2,1626.0 512.8,1666.0 516.4,1686.0 520.0,1626.0 523.6,1626.0 527.2,1626.0 530.8,1746.0 534.4,1646.0 538.0,1646.0 541.6,1626.0 545.3,1626.0 548.9,1766.0 552.5,1626.0 556.1,1646.0 559.7,1686.0 563.3,1646.0 566.9,1646.0 570.5,1646.0 574.1,1646.0 577.7,1626.0 581.3,1666.0 585.0,1746.0 588.6,1666.0 592.2,1646.0 595.8,1626.0 599.4,1626.0 603.0,1746.0 606.6,1646.0 610.2,1626.0 613.8,1626.0 617.4,1626.0 621.0,1626.0 624.7,1626.0 628.3,1706.0 631.9,1626.0 635.5,1626.0 639.1,1626.0 642.7,1626.0 646.3,1626.0 649.9,1666.0 653.5,1646.0 657.1,1706.0 660.7,1626.0 664.4,1626.0 668.0,1626.0 671.6,1626.0 675.2,1766.0 678.8,1686.0 682.4,1646.0 686.0,1646.0 689.6,1626.0 693.2,1766.0 696.8,1626.0 700.4,1626.0 704.0,1666.0 707.7,1626.0 711.3,1726.0 714.9,1686.0 718.5,1646.0 722.1,1626.0 725.7,1646.0 729.3,1746.0 732.9,1646.0 736.5,1686.0 740.1,1666.0 743.7,1646.0 747.4,1746.0 751.0,1626.0 754.6,1626.0 758.2,1646.0 761.8,1646.0 765.4,1786.0 769.0,1626.0 772.6,1626.0 776.2,1646.0 779.8,1686.0 783.4,1786.0 787.1,1646.0 790.7,1646.0 794.3,1646.0 797.9,1626.0 801.5,1746.0 805.1,1626.0 808.7,1626.0 812.3,1626.0 815.9,1626.0 819.5,1746.0 823.1,1646.0 826.8,1686.0 830.4,1646.0 834.0,1666.0 837.6,1746.0 841.2,1686.0 844.8,1626.0 848.4,1626.0 852.0,1626.0 855.6,1746.0 859.2,1626.0 862.8,1646.0 866.5,1666.0 870.1,1666.0 873.7,1766.0 877.3,1646.0 880.9,1646.0 884.5,1626.0 888.1,1646.0 891.7,1766.0 895.3,1646.0 898.9,1646.0 902.5,1646.0 906.2,1626.0 909.8,1726.0 913.4,1626.0 917.0,1646.0 920.6,1686.0 924.2,1726.0 927.8,1646.0 931.4,1666.0 935.0,1646.0 938.6,1626.0 942.2,1626.0 945.9,1746.0 949.5,1666.0 953.1,1646.0 956.7,1626.0 960.3,1666.0 963.9,1706.0 967.5,1646.0 971.1,1626.0 974.7,1646.0 978.3,1626.0 981.9,1726.0 985.6,1686.0 989.2,1646.0 992.8,1646.0 996.4,1666.0 1000.0,1686.0 1003.6,1666.0 1007.2,1666.0 1010.8,1626.0 1014.4,1626.0 1018.0,1726.0 1021.6,1626.0 1025.3,1646.0 1028.9,1626.0 1032.5,1646.0 1036.1,1706.0 1039.7,1666.0 1043.3,1626.0 1046.9,1646.0 1050.5,1646.0 1054.1,1706.0 1057.7,1646.0 1061.3,1666.0 1065.0,1646.0 1068.6,1646.0 1072.2,1706.0 1075.8,1626.0 1079.4,1646.0 1083.0,1626.0 1086.6,1626.0 1090.2,1726.0 1093.8,1626.0 1097.4,1646.0 1101.0,1646.0 1104.6,1646.0 1108.3,1726.0 1111.9,1646.0 1115.5,1646.0 1119.1,1646.0 1122.7,1626.0 1126.3,1706.0 1129.9,1626.0 1133.5,1626.0 1137.1,1646.0 1140.7,1646.0 1144.3,1746.0 1148.0,1646.0 1151.6,1666.0 1155.2,1646.0 1158.8,1646.0 1162.4,1686.0 1166.0,1646.0 1169.6,1646.0 1173.2,1646.0 1176.8,1646.0 1180.4,1706.0 1184.0,1666.0 1187.7,1646.0 1191.3,1666.0 1194.9,1666.0 1198.5,1706.0 1202.1,1646.0 1205.7,1666.0 1209.3,1666.0 1212.9,1626.0 1216.5,1706.0 1220.1,1646.0 1223.7,1626.0 1227.4,1626.0 1231.0,1626.0 1234.6,1706.0 1238.2,1646.0 1241.8,1666.0 1245.4,1626.0 1249.0,1646.0 1252.6,1726.0 1256.2,1626.0 1259.8,1666.0 1263.4,1686.0 1267.1,1626.0 1270.7,1706.0 1274.3,1626.0 1277.9,1646.0 1281.5,1686.0 1285.1,1666.0 1288.7,1686.0 1292.3,1646.0 1295.9,1646.0 1299.5,1626.0 1303.1,1626.0 1306.8,1706.0 1310.4,1646.0 1314.0,1626.0 1317.6,1646.0 1321.2,1646.0 1324.8,1686.0 1328.4,1626.0 1332.0,1646.0 1335.6,1646.0 1339.2,1626.0 1342.8,1686.0 1346.5,1646.0 1350.1,1686.0 1353.7,1626.0 1357.3,1626.0 1360.9,1686.0 1364.5,1646.0 1368.1,1626.0 1371.7,1626.0 1375.3,1646.0 1378.9,1686.0 1382.5,1646.0 1386.2,1626.0 1389.8,1626.0 1393.4,1666.0 1397.0,1706.0 1400.6,1646.0 1404.2,1626.0 1407.8,1626.0 1411.4,1646.0 1415.0,1686.0 1418.6,1626.0 1422.2,1666.0 1425.9,1646.0 1429.5,1646.0 1433.1,1706.0 1436.7,1666.0 1440.3,1626.0 1443.9,1666.0 1447.5,1646.0 1451.1,1626.0 1454.7,1646.0 1458.3,1726.0 1461.9,1626.0 1465.5,1626.0 1469.2,1646.0 1472.8,1626.0 1476.4,1686.0 1480.0,1626.0 1483.6,1626.0 1487.2,1626.0 1490.8,1686.0 1494.4,1626.0 1498.0,1646.0 1501.6,1626.0 1505.2,1706.0 1508.9,1626.0 1512.5,1626.0 1516.1,1686.0 1519.7,1626.0 1523.3,1626.0 1526.9,1646.0 1530.5,1646.0 1534.1,1626.0 1537.7,1646.0 1541.3,1706.0 1544.9,1626.0 1548.6,1646.0 1552.2,1646.0 1555.8,1646.0 1559.4,1666.0 1563.0,1686.0 1566.6,1646.0 1570.2,1646.0 1573.8,1686.0 1577.4,1726.0 1581.0,1666.0 1584.6,1646.0 1588.3,1646.0 1591.9,1646.0 1595.5,1726.0 1599.1,1626.0 1602.7,1626.0 1606.3,1626.0 1609.9,1646.0 1613.5,1706.0 1617.1,1626.0 1620.7,1626.0 1624.3,1666.0 1628.0,1666.0 1631.6,1726.0 1635.2,1626.0 1638.8,1626.0 1642.4,1626.0 1646.0,1646.0 1649.6,1726.0 1653.2,1646.0 1656.8,1626.0 1660.4,1686.0 1664.0,1686.0 1667.7,1646.0 1671.3,1626.0 1674.9,1746.0 1678.5,1626.0 1682.1,1626.0 1685.7,1666.0 1689.3,1626.0 1692.9,1646.0 1696.5,1646.0 1700.1,1626.0 1703.7,1726.0 1707.4,1626.0 1711.0,1646.0 1714.6,1626.0 1718.2,1566.0 1721.8,1566.0 1725.4,1546.0 1729.0,1546.0 1732.6,1546.0 1736.2,1546.0 1739.8,1566.0 1743.4,1586.0 1747.1,1586.0 1750.7,1626.0 1754.3,1646.0 1757.9,1666.0 1761.5,1786.0 1765.1,1666.0 1768.7,1626.0 1772.3,1646.0 1775.9,1646.0 1779.5,1626.0 1783.1,1666.0 1786.8,1666.0 1790.4,1646.0 1794.0,1646.0 1797.6,1746.0 1801.2,1626.0 1804.8,1646.0 1808.4,1646.0 1812.0,1666.0 1815.6,1726.0 1819.2,1666.0 1822.8,1646.0 1826.4,1666.0 1830.1,1646.0 1833.7,1646.0 1837.3,1746.0 1840.9,1626.0 1844.5,1626.0 1848.1,1626.0 1851.7,1626.0 1855.3,1666.0 1858.9,1646.0 1862.5,1646.0 1866.1,1646.0 1869.8,1766.0 1873.4,1646.0 1877.0,1626.0 1880.6,1646.0 1884.2,1766.0 1887.8,1646.0 1891.4,1646.0 1895.0,1646.0 1898.6,1626.0 1902.2,1646.0 1905.8,1626.0 1909.5,1786.0 1913.1,1626.0 1916.7,1646.0 1920.3,1626.0 1923.9,1746.0 1927.5,1686.0 1931.1,1646.0 1934.7,1626.0 1938.3,1646.0 1941.9,1726.0 1945.5,1646.0 1949.2,1646.0 1952.8,1646.0 1956.4,1626.0 1960.0,1746.0 1963.6,1626.0 1967.2,1746.0" fill="none" stroke="#D95319" stroke-opacity="0.88" stroke-width="4.0" stroke-linejoin="miter" stroke-miterlimit="3"/>
<polyline points="162.7,1647.5 166.3,1627.5 169.9,1627.5 173.5,1627.5 177.1,1647.5 180.7,1707.5 184.4,1707.5 188.0,1687.5 191.6,1647.5 195.2,1627.5 198.8,1667.5 202.4,1647.5 206.0,1627.5 209.6,1647.5 213.2,1647.5 216.8,1627.5 220.4,1667.5 224.1,1667.5 227.7,1647.5 231.3,1647.5 234.9,1627.5 238.5,1627.5 242.1,1647.5 245.7,1627.5 249.3,1647.5 252.9,1647.5 256.5,1627.5 260.1,1647.5 263.8,1647.5 267.4,1647.5 271.0,1647.5 274.6,1647.5 278.2,1647.5 281.8,1647.5 285.4,1647.5 289.0,1647.5 292.6,1667.5 296.2,1667.5 299.8,1647.5 303.5,1647.5 307.1,1647.5 310.7,1647.5 314.3,1647.5 317.9,1627.5 321.5,1647.5 325.1,1647.5 328.7,1647.5 332.3,1647.5 335.9,1667.5 339.5,1647.5 343.1,1627.5 346.8,1647.5 350.4,1667.5 354.0,1647.5 357.6,1667.5 361.2,1647.5 364.8,1627.5 368.4,1647.5 372.0,1647.5 375.6,1647.5 379.2,1627.5 382.8,1647.5 386.5,1667.5 390.1,1647.5 393.7,1627.5 397.3,1647.5 400.9,1627.5 404.5,1627.5 408.1,1647.5 411.7,1647.5 415.3,1647.5 418.9,1647.5 422.5,1647.5 426.2,1647.5 429.8,1627.5 433.4,1647.5 437.0,1627.5 440.6,1647.5 444.2,1647.5 447.8,1647.5 451.4,1667.5 455.0,1647.5 458.6,1647.5 462.2,1667.5 465.9,1647.5 469.5,1647.5 473.1,1647.5 476.7,1647.5 480.3,1627.5 483.9,1667.5 487.5,1647.5 491.1,1647.5 494.7,1647.5 498.3,1647.5 501.9,1647.5 505.6,1627.5 509.2,1627.5 512.8,1647.5 516.4,1647.5 520.0,1647.5 523.6,1647.5 527.2,1647.5 530.8,1667.5 534.4,1647.5 538.0,1647.5 541.6,1667.5 545.3,1647.5 548.9,1627.5 552.5,1667.5 556.1,1647.5 559.7,1647.5 563.3,1647.5 566.9,1647.5 570.5,1667.5 574.1,1647.5 577.7,1667.5 581.3,1667.5 585.0,1647.5 588.6,1647.5 592.2,1627.5 595.8,1627.5 599.4,1667.5 603.0,1647.5 606.6,1647.5 610.2,1647.5 613.8,1647.5 617.4,1647.5 621.0,1647.5 624.7,1647.5 628.3,1647.5 631.9,1627.5 635.5,1647.5 639.1,1647.5 642.7,1647.5 646.3,1647.5 649.9,1647.5 653.5,1667.5 657.1,1647.5 660.7,1627.5 664.4,1647.5 668.0,1647.5 671.6,1627.5 675.2,1647.5 678.8,1647.5 682.4,1647.5 686.0,1627.5 689.6,1647.5 693.2,1667.5 696.8,1667.5 700.4,1647.5 704.0,1647.5 707.7,1647.5 711.3,1627.5 714.9,1627.5 718.5,1627.5 722.1,1667.5 725.7,1647.5 729.3,1667.5 732.9,1627.5 736.5,1647.5 740.1,1647.5 743.7,1647.5 747.4,1647.5 751.0,1667.5 754.6,1627.5 758.2,1647.5 761.8,1647.5 765.4,1667.5 769.0,1647.5 772.6,1647.5 776.2,1647.5 779.8,1667.5 783.4,1647.5 787.1,1647.5 790.7,1667.5 794.3,1667.5 797.9,1647.5 801.5,1647.5 805.1,1667.5 808.7,1647.5 812.3,1647.5 815.9,1647.5 819.5,1647.5 823.1,1647.5 826.8,1627.5 830.4,1647.5 834.0,1667.5 837.6,1667.5 841.2,1647.5 844.8,1647.5 848.4,1647.5 852.0,1647.5 855.6,1647.5 859.2,1647.5 862.8,1627.5 866.5,1647.5 870.1,1627.5 873.7,1647.5 877.3,1647.5 880.9,1647.5 884.5,1647.5 888.1,1647.5 891.7,1647.5 895.3,1667.5 898.9,1647.5 902.5,1627.5 906.2,1647.5 909.8,1647.5 913.4,1647.5 917.0,1647.5 920.6,1667.5 924.2,1647.5 927.8,1647.5 931.4,1667.5 935.0,1647.5 938.6,1647.5 942.2,1647.5 945.9,1687.5 949.5,1647.5 953.1,1667.5 956.7,1667.5 960.3,1647.5 963.9,1647.5 967.5,1647.5 971.1,1627.5 974.7,1647.5 978.3,1647.5 981.9,1647.5 985.6,1647.5 989.2,1667.5 992.8,1647.5 996.4,1647.5 1000.0,1647.5 1003.6,1647.5 1007.2,1647.5 1010.8,1647.5 1014.4,1647.5 1018.0,1647.5 1021.6,1647.5 1025.3,1647.5 1028.9,1667.5 1032.5,1647.5 1036.1,1627.5 1039.7,1627.5 1043.3,1667.5 1046.9,1627.5 1050.5,1647.5 1054.1,1647.5 1057.7,1647.5 1061.3,1647.5 1065.0,1627.5 1068.6,1627.5 1072.2,1647.5 1075.8,1627.5 1079.4,1687.5 1083.0,1647.5 1086.6,1627.5 1090.2,1627.5 1093.8,1647.5 1097.4,1647.5 1101.0,1647.5 1104.6,1647.5 1108.3,1647.5 1111.9,1687.5 1115.5,1647.5 1119.1,1647.5 1122.7,1647.5 1126.3,1647.5 1129.9,1627.5 1133.5,1647.5 1137.1,1647.5 1140.7,1647.5 1144.3,1647.5 1148.0,1647.5 1151.6,1647.5 1155.2,1647.5 1158.8,1647.5 1162.4,1647.5 1166.0,1647.5 1169.6,1647.5 1173.2,1667.5 1176.8,1627.5 1180.4,1667.5 1184.0,1647.5 1187.7,1627.5 1191.3,1647.5 1194.9,1647.5 1198.5,1667.5 1202.1,1647.5 1205.7,1647.5 1209.3,1667.5 1212.9,1647.5 1216.5,1667.5 1220.1,1647.5 1223.7,1647.5 1227.4,1647.5 1231.0,1647.5 1234.6,1647.5 1238.2,1647.5 1241.8,1647.5 1245.4,1647.5 1249.0,1667.5 1252.6,1667.5 1256.2,1667.5 1259.8,1647.5 1263.4,1647.5 1267.1,1647.5 1270.7,1667.5 1274.3,1647.5 1277.9,1647.5 1281.5,1627.5 1285.1,1647.5 1288.7,1647.5 1292.3,1647.5 1295.9,1647.5 1299.5,1627.5 1303.1,1647.5 1306.8,1627.5 1310.4,1647.5 1314.0,1647.5 1317.6,1647.5 1321.2,1647.5 1324.8,1627.5 1328.4,1627.5 1332.0,1647.5 1335.6,1647.5 1339.2,1647.5 1342.8,1647.5 1346.5,1667.5 1350.1,1647.5 1353.7,1667.5 1357.3,1627.5 1360.9,1647.5 1364.5,1647.5 1368.1,1647.5 1371.7,1647.5 1375.3,1647.5 1378.9,1647.5 1382.5,1647.5 1386.2,1647.5 1389.8,1687.5 1393.4,1647.5 1397.0,1647.5 1400.6,1667.5 1404.2,1647.5 1407.8,1647.5 1411.4,1667.5 1415.0,1647.5 1418.6,1647.5 1422.2,1647.5 1425.9,1647.5 1429.5,1647.5 1433.1,1647.5 1436.7,1627.5 1440.3,1667.5 1443.9,1647.5 1447.5,1647.5 1451.1,1647.5 1454.7,1647.5 1458.3,1647.5 1461.9,1647.5 1465.5,1627.5 1469.2,1647.5 1472.8,1647.5 1476.4,1667.5 1480.0,1667.5 1483.6,1647.5 1487.2,1647.5 1490.8,1707.5 1494.4,1707.5 1498.0,1687.5 1501.6,1707.5 1505.2,1707.5 1508.9,1687.5 1512.5,1647.5 1516.1,1647.5 1519.7,1667.5 1523.3,1627.5 1526.9,1647.5 1530.5,1627.5 1534.1,1647.5 1537.7,1647.5 1541.3,1647.5 1544.9,1647.5 1548.6,1647.5 1552.2,1647.5 1555.8,1627.5 1559.4,1647.5 1563.0,1627.5 1566.6,1647.5 1570.2,1647.5 1573.8,1647.5 1577.4,1647.5 1581.0,1647.5 1584.6,1647.5 1588.3,1647.5 1591.9,1647.5 1595.5,1627.5 1599.1,1647.5 1602.7,1647.5 1606.3,1647.5 1609.9,1647.5 1613.5,1647.5 1617.1,1647.5 1620.7,1647.5 1624.3,1647.5 1628.0,1647.5 1631.6,1647.5 1635.2,1667.5 1638.8,1687.5 1642.4,1647.5 1646.0,1667.5 1649.6,1647.5 1653.2,1667.5 1656.8,1667.5 1660.4,1627.5 1664.0,1647.5 1667.7,1647.5 1671.3,1647.5 1674.9,1627.5 1678.5,1647.5 1682.1,1647.5 1685.7,1647.5 1689.3,1627.5 1692.9,1647.5 1696.5,1647.5 1700.1,1627.5 1703.7,1647.5 1707.4,1647.5 1711.0,1667.5 1714.6,1667.5 1718.2,1627.5 1721.8,1647.5 1725.4,1647.5 1729.0,1687.5 1732.6,1647.5 1736.2,1647.5 1739.8,1627.5 1743.4,1627.5 1747.1,1627.5 1750.7,1647.5 1754.3,1647.5 1757.9,1647.5 1761.5,1627.5 1765.1,1647.5 1768.7,1647.5 1772.3,1647.5 1775.9,1667.5 1779.5,1667.5 1783.1,1687.5 1786.8,1627.5 1790.4,1667.5 1794.0,1647.5 1797.6,1647.5 1801.2,1647.5 1804.8,1647.5 1808.4,1647.5 1812.0,1647.5 1815.6,1647.5 1819.2,1627.5 1822.8,1647.5 1826.4,1647.5 1830.1,1647.5 1833.7,1647.5 1837.3,1647.5 1840.9,1647.5 1844.5,1647.5 1848.1,1647.5 1851.7,1747.5 1855.3,1787.5 1858.9,1787.5 1862.5,1787.5 1866.1,1747.5 1869.8,1707.5 1873.4,1647.5 1877.0,1647.5 1880.6,1647.5 1884.2,1647.5 1887.8,1667.5 1891.4,1647.5 1895.0,1627.5 1898.6,1627.5 1902.2,1627.5 1905.8,1627.5 1909.5,1627.5 1913.1,1687.5 1916.7,1627.5 1920.3,1627.5 1923.9,1627.5 1927.5,1687.5 1931.1,1647.5 1934.7,1647.5 1938.3,1647.5 1941.9,1627.5 1945.5,1647.5 1949.2,1647.5 1952.8,1627.5 1956.4,1647.5 1960.0,1647.5 1963.6,1647.5 1967.2,1647.5" fill="none" stroke="#EDB120" stroke-opacity="0.09" stroke-width="8.0" stroke-linejoin="miter" stroke-miterlimit="3"/>
<polyline points="162.7,1646.0 166.3,1626.0 169.9,1626.0 173.5,1626.0 177.1,1646.0 180.7,1706.0 184.4,1706.0 188.0,1686.0 191.6,1646.0 195.2,1626.0 198.8,1666.0 202.4,1646.0 206.0,1626.0 209.6,1646.0 213.2,1646.0 216.8,1626.0 220.4,1666.0 224.1,1666.0 227.7,1646.0 231.3,1646.0 234.9,1626.0 238.5,1626.0 242.1,1646.0 245.7,1626.0 249.3,1646.0 252.9,1646.0 256.5,1626.0 260.1,1646.0 263.8,1646.0 267.4,1646.0 271.0,1646.0 274.6,1646.0 278.2,1646.0 281.8,1646.0 285.4,1646.0 289.0,1646.0 292.6,1666.0 296.2,1666.0 299.8,1646.0 303.5,1646.0 307.1,1646.0 310.7,1646.0 314.3,1646.0 317.9,1626.0 321.5,1646.0 325.1,1646.0 328.7,1646.0 332.3,1646.0 335.9,1666.0 339.5,1646.0 343.1,1626.0 346.8,1646.0 350.4,1666.0 354.0,1646.0 357.6,1666.0 361.2,1646.0 364.8,1626.0 368.4,1646.0 372.0,1646.0 375.6,1646.0 379.2,1626.0 382.8,1646.0 386.5,1666.0 390.1,1646.0 393.7,1626.0 397.3,1646.0 400.9,1626.0 404.5,1626.0 408.1,1646.0 411.7,1646.0 415.3,1646.0 418.9,1646.0 422.5,1646.0 426.2,1646.0 429.8,1626.0 433.4,1646.0 437.0,1626.0 440.6,1646.0 444.2,1646.0 447.8,1646.0 451.4,1666.0 455.0,1646.0 458.6,1646.0 462.2,1666.0 465.9,1646.0 469.5,1646.0 473.1,1646.0 476.7,1646.0 480.3,1626.0 483.9,1666.0 487.5,1646.0 491.1,1646.0 494.7,1646.0 498.3,1646.0 501.9,1646.0 505.6,1626.0 509.2,1626.0 512.8,1646.0 516.4,1646.0 520.0,1646.0 523.6,1646.0 527.2,1646.0 530.8,1666.0 534.4,1646.0 538.0,1646.0 541.6,1666.0 545.3,1646.0 548.9,1626.0 552.5,1666.0 556.1,1646.0 559.7,1646.0 563.3,1646.0 566.9,1646.0 570.5,1666.0 574.1,1646.0 577.7,1666.0 581.3,1666.0 585.0,1646.0 588.6,1646.0 592.2,1626.0 595.8,1626.0 599.4,1666.0 603.0,1646.0 606.6,1646.0 610.2,1646.0 613.8,1646.0 617.4,1646.0 621.0,1646.0 624.7,1646.0 628.3,1646.0 631.9,1626.0 635.5,1646.0 639.1,1646.0 642.7,1646.0 646.3,1646.0 649.9,1646.0 653.5,1666.0 657.1,1646.0 660.7,1626.0 664.4,1646.0 668.0,1646.0 671.6,1626.0 675.2,1646.0 678.8,1646.0 682.4,1646.0 686.0,1626.0 689.6,1646.0 693.2,1666.0 696.8,1666.0 700.4,1646.0 704.0,1646.0 707.7,1646.0 711.3,1626.0 714.9,1626.0 718.5,1626.0 722.1,1666.0 725.7,1646.0 729.3,1666.0 732.9,1626.0 736.5,1646.0 740.1,1646.0 743.7,1646.0 747.4,1646.0 751.0,1666.0 754.6,1626.0 758.2,1646.0 761.8,1646.0 765.4,1666.0 769.0,1646.0 772.6,1646.0 776.2,1646.0 779.8,1666.0 783.4,1646.0 787.1,1646.0 790.7,1666.0 794.3,1666.0 797.9,1646.0 801.5,1646.0 805.1,1666.0 808.7,1646.0 812.3,1646.0 815.9,1646.0 819.5,1646.0 823.1,1646.0 826.8,1626.0 830.4,1646.0 834.0,1666.0 837.6,1666.0 841.2,1646.0 844.8,1646.0 848.4,1646.0 852.0,1646.0 855.6,1646.0 859.2,1646.0 862.8,1626.0 866.5,1646.0 870.1,1626.0 873.7,1646.0 877.3,1646.0 880.9,1646.0 884.5,1646.0 888.1,1646.0 891.7,1646.0 895.3,1666.0 898.9,1646.0 902.5,1626.0 906.2,1646.0 909.8,1646.0 913.4,1646.0 917.0,1646.0 920.6,1666.0 924.2,1646.0 927.8,1646.0 931.4,1666.0 935.0,1646.0 938.6,1646.0 942.2,1646.0 945.9,1686.0 949.5,1646.0 953.1,1666.0 956.7,1666.0 960.3,1646.0 963.9,1646.0 967.5,1646.0 971.1,1626.0 974.7,1646.0 978.3,1646.0 981.9,1646.0 985.6,1646.0 989.2,1666.0 992.8,1646.0 996.4,1646.0 1000.0,1646.0 1003.6,1646.0 1007.2,1646.0 1010.8,1646.0 1014.4,1646.0 1018.0,1646.0 1021.6,1646.0 1025.3,1646.0 1028.9,1666.0 1032.5,1646.0 1036.1,1626.0 1039.7,1626.0 1043.3,1666.0 1046.9,1626.0 1050.5,1646.0 1054.1,1646.0 1057.7,1646.0 1061.3,1646.0 1065.0,1626.0 1068.6,1626.0 1072.2,1646.0 1075.8,1626.0 1079.4,1686.0 1083.0,1646.0 1086.6,1626.0 1090.2,1626.0 1093.8,1646.0 1097.4,1646.0 1101.0,1646.0 1104.6,1646.0 1108.3,1646.0 1111.9,1686.0 1115.5,1646.0 1119.1,1646.0 1122.7,1646.0 1126.3,1646.0 1129.9,1626.0 1133.5,1646.0 1137.1,1646.0 1140.7,1646.0 1144.3,1646.0 1148.0,1646.0 1151.6,1646.0 1155.2,1646.0 1158.8,1646.0 1162.4,1646.0 1166.0,1646.0 1169.6,1646.0 1173.2,1666.0 1176.8,1626.0 1180.4,1666.0 1184.0,1646.0 1187.7,1626.0 1191.3,1646.0 1194.9,1646.0 1198.5,1666.0 1202.1,1646.0 1205.7,1646.0 1209.3,1666.0 1212.9,1646.0 1216.5,1666.0 1220.1,1646.0 1223.7,1646.0 1227.4,1646.0 1231.0,1646.0 1234.6,1646.0 1238.2,1646.0 1241.8,1646.0 1245.4,1646.0 1249.0,1666.0 1252.6,1666.0 1256.2,1666.0 1259.8,1646.0 1263.4,1646.0 1267.1,1646.0 1270.7,1666.0 1274.3,1646.0 1277.9,1646.0 1281.5,1626.0 1285.1,1646.0 1288.7,1646.0 1292.3,1646.0 1295.9,1646.0 1299.5,1626.0 1303.1,1646.0 1306.8,1626.0 1310.4,1646.0 1314.0,1646.0 1317.6,1646.0 1321.2,1646.0 1324.8,1626.0 1328.4,1626.0 1332.0,1646.0 1335.6,1646.0 1339.2,1646.0 1342.8,1646.0 1346.5,1666.0 1350.1,1646.0 1353.7,1666.0 1357.3,1626.0 1360.9,1646.0 1364.5,1646.0 1368.1,1646.0 1371.7,1646.0 1375.3,1646.0 1378.9,1646.0 1382.5,1646.0 1386.2,1646.0 1389.8,1686.0 1393.4,1646.0 1397.0,1646.0 1400.6,1666.0 1404.2,1646.0 1407.8,1646.0 1411.4,1666.0 1415.0,1646.0 1418.6,1646.0 1422.2,1646.0 1425.9,1646.0 1429.5,1646.0 1433.1,1646.0 1436.7,1626.0 1440.3,1666.0 1443.9,1646.0 1447.5,1646.0 1451.1,1646.0 1454.7,1646.0 1458.3,1646.0 1461.9,1646.0 1465.5,1626.0 1469.2,1646.0 1472.8,1646.0 1476.4,1666.0 1480.0,1666.0 1483.6,1646.0 1487.2,1646.0 1490.8,1706.0 1494.4,1706.0 1498.0,1686.0 1501.6,1706.0 1505.2,1706.0 1508.9,1686.0 1512.5,1646.0 1516.1,1646.0 1519.7,1666.0 1523.3,1626.0 1526.9,1646.0 1530.5,1626.0 1534.1,1646.0 1537.7,1646.0 1541.3,1646.0 1544.9,1646.0 1548.6,1646.0 1552.2,1646.0 1555.8,1626.0 1559.4,1646.0 1563.0,1626.0 1566.6,1646.0 1570.2,1646.0 1573.8,1646.0 1577.4,1646.0 1581.0,1646.0 1584.6,1646.0 1588.3,1646.0 1591.9,1646.0 1595.5,1626.0 1599.1,1646.0 1602.7,1646.0 1606.3,1646.0 1609.9,1646.0 1613.5,1646.0 1617.1,1646.0 1620.7,1646.0 1624.3,1646.0 1628.0,1646.0 1631.6,1646.0 1635.2,1666.0 1638.8,1686.0 1642.4,1646.0 1646.0,1666.0 1649.6,1646.0 1653.2,1666.0 1656.8,1666.0 1660.4,1626.0 1664.0,1646.0 1667.7,1646.0 1671.3,1646.0 1674.9,1626.0 1678.5,1646.0 1682.1,1646.0 1685.7,1646.0 1689.3,1626.0 1692.9,1646.0 1696.5,1646.0 1700.1,1626.0 1703.7,1646.0 1707.4,1646.0 1711.0,1666.0 1714.6,1666.0 1718.2,1626.0 1721.8,1646.0 1725.4,1646.0 1729.0,1686.0 1732.6,1646.0 1736.2,1646.0 1739.8,1626.0 1743.4,1626.0 1747.1,1626.0 1750.7,1646.0 1754.3,1646.0 1757.9,1646.0 1761.5,1626.0 1765.1,1646.0 1768.7,1646.0 1772.3,1646.0 1775.9,1666.0 1779.5,1666.0 1783.1,1686.0 1786.8,1626.0 1790.4,1666.0 1794.0,1646.0 1797.6,1646.0 1801.2,1646.0 1804.8,1646.0 1808.4,1646.0 1812.0,1646.0 1815.6,1646.0 1819.2,1626.0 1822.8,1646.0 1826.4,1646.0 1830.1,1646.0 1833.7,1646.0 1837.3,1646.0 1840.9,1646.0 1844.5,1646.0 1848.1,1646.0 1851.7,1746.0 1855.3,1786.0 1858.9,1786.0 1862.5,1786.0 1866.1,1746.0 1869.8,1706.0 1873.4,1646.0 1877.0,1646.0 1880.6,1646.0 1884.2,1646.0 1887.8,1666.0 1891.4,1646.0 1895.0,1626.0 1898.6,1626.0 1902.2,1626.0 1905.8,1626.0 1909.5,1626.0 1913.1,1686.0 1916.7,1626.0 1920.3,1626.0 1923.9,1626.0 1927.5,1686.0 1931.1,1646.0 1934.7,1646.0 1938.3,1646.0 1941.9,1626.0 1945.5,1646.0 1949.2,1646.0 1952.8,1626.0 1956.4,1646.0 1960.0,1646.0 1963.6,1646.0 1967.2,1646.0" fill="none" stroke="#EDB120" stroke-opacity="0.88" stroke-width="4.0" stroke-linejoin="miter" stroke-miterlimit="3"/>
</g>
<path d="M342.0 1785.0V1767.0M342.0 1189.0V1207.0M521.0 1785.0V1767.0M521.0 1189.0V1207.0M705.0 1785.0V1767.0M705.0 1189.0V1207.0M884.0 1785.0V1767.0M884.0 1189.0V1207.0M1067.0 1785.0V1767.0M1067.0 1189.0V1207.0M1246.0 1785.0V1767.0M1246.0 1189.0V1207.0M1426.0 1785.0V1767.0M1426.0 1189.0V1207.0M1609.0 1785.0V1767.0M1609.0 1189.0V1207.0M1788.0 1785.0V1767.0M1788.0 1189.0V1207.0M163.0 1289.0H181.0M1967.0 1289.0H1949.0M163.0 1389.0H181.0M1967.0 1389.0H1949.0M163.0 1489.0H181.0M1967.0 1489.0H1949.0M163.0 1589.0H181.0M1967.0 1589.0H1949.0M163.0 1689.0H181.0M1967.0 1689.0H1949.0" stroke="#262626" stroke-width="4" fill="none"/>
<text x="137.2" y="1203.6" class="tk" text-anchor="end">-40</text>
<text x="137.2" y="1303.6" class="tk" text-anchor="end">-45</text>
<text x="137.2" y="1403.6" class="tk" text-anchor="end">-50</text>
<text x="137.2" y="1503.6" class="tk" text-anchor="end">-55</text>
<text x="137.2" y="1603.6" class="tk" text-anchor="end">-60</text>
<text x="137.2" y="1703.6" class="tk" text-anchor="end">-65</text>
<text x="137.2" y="1803.6" class="tk" text-anchor="end">-70</text>
<text x="158.8" y="1845.6" class="tk" text-anchor="middle">0</text>
<text x="338.2" y="1845.6" class="tk" text-anchor="middle">50</text>
<text x="524.8" y="1845.6" class="tk" text-anchor="middle">100</text>
<text x="703.9" y="1845.6" class="tk" text-anchor="middle">150</text>
<text x="883.2" y="1845.6" class="tk" text-anchor="middle">200</text>
<text x="1065.0" y="1845.6" class="tk" text-anchor="middle">250</text>
<text x="1245.3" y="1845.6" class="tk" text-anchor="middle">300</text>
<text x="1427.1" y="1845.6" class="tk" text-anchor="middle">350</text>
<text x="1607.5" y="1845.6" class="tk" text-anchor="middle">400</text>
<text x="1788.6" y="1845.6" class="tk" text-anchor="middle">450</text>
<text x="1969.7" y="1845.6" class="tk" text-anchor="middle">500</text>
<text x="1067.2" y="1907.7" class="lb" text-anchor="middle">Samples</text>
<text transform="translate(51.8 1487.1) rotate(-90)" class="lb" text-anchor="middle">RSSI [dB])</text>
<text x="1062.6" y="1161.6" class="tt" text-anchor="middle">Device D Raw</text>
<rect x="204.0" y="1589.0" width="367.0" height="154.0" fill="#fff" stroke="#262626" stroke-width="4"/>
<line x1="219.1" y1="1618.3" x2="347.4" y2="1618.3" stroke="#0072BD" stroke-width="3.8"/>
<text x="357.7" y="1636.7" class="lg" textLength="198.4" lengthAdjust="spacingAndGlyphs">RSSI 1.09m</text>
<line x1="219.1" y1="1668.3" x2="347.4" y2="1668.3" stroke="#D95319" stroke-width="3.8"/>
<text x="357.7" y="1682.1" class="lg" textLength="198.4" lengthAdjust="spacingAndGlyphs">RSSI 3.16m</text>
<line x1="219.1" y1="1714.2" x2="347.4" y2="1714.2" stroke="#EDB120" stroke-width="3.8"/>
<text x="357.7" y="1727.9" class="lg" textLength="198.4" lengthAdjust="spacingAndGlyphs">RSSI 5.23m</text>
</g>
<g><text transform="translate(959.30 2048.50) scale(0.890 1)" class="cap" style="font-size:77.7px">(</text><text transform="translate(980.60 2048.80) scale(1.050 1)" class="cap" style="font-size:77.0px;font-weight:bold">d</text><text transform="translate(1027.10 2048.50) scale(0.890 1)" class="cap" style="font-size:77.7px">)</text></g>
</svg>
</body></html>
